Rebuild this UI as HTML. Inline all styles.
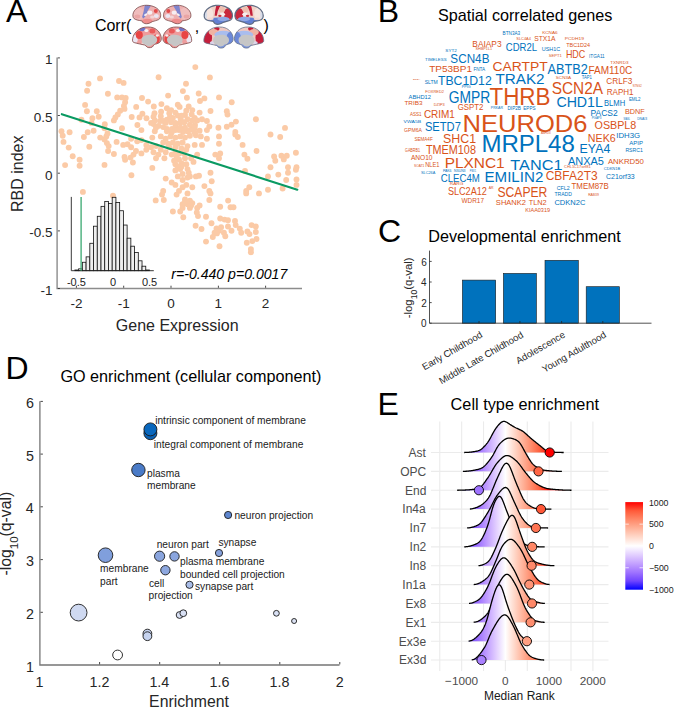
<!DOCTYPE html>
<html><head><meta charset="utf-8"><style>html,body{margin:0;padding:0;background:#fff;overflow:hidden}svg{display:block}text{font-family:"Liberation Sans",sans-serif}</style></head><body>
<svg width="685" height="708" viewBox="0 0 685 708" font-family="Liberation Sans">
<rect width="685" height="708" fill="#fff"/>
<text x="5.90" y="22.10" font-size="32" fill="#000" text-anchor="start" >A</text>
<text x="94.90" y="30.80" font-size="16" fill="#000" text-anchor="start" >Corr(</text>
<text x="194.80" y="31.50" font-size="16" fill="#000" text-anchor="start" >,</text>
<text x="263.50" y="30.80" font-size="16" fill="#000" text-anchor="start" >)</text>
<g transform="translate(132.30,5.00) scale(1.0000,0.9561)"><clipPath id="bc1325"><path d="M0.6,11.5 C0.2,6.5 4.5,1.5 12,0.4 C18,-0.3 24.5,2 27,6 C29.2,9.5 28.6,13.8 26.5,15.2 C24.5,16.4 22,16.6 20,17.4 C18,18.6 16.5,19.6 14,19.6 C11.5,19.6 10.2,18.5 9.6,16.6 C6.5,16.2 3,15.5 1.6,14 C0.9,13.3 0.6,12.4 0.6,11.5 Z"/></clipPath><path d="M0.6,11.5 C0.2,6.5 4.5,1.5 12,0.4 C18,-0.3 24.5,2 27,6 C29.2,9.5 28.6,13.8 26.5,15.2 C24.5,16.4 22,16.6 20,17.4 C18,18.6 16.5,19.6 14,19.6 C11.5,19.6 10.2,18.5 9.6,16.6 C6.5,16.2 3,15.5 1.6,14 C0.9,13.3 0.6,12.4 0.6,11.5 Z" fill="#eeb0b0"/><g clip-path="url(#bc1325)"><ellipse cx="6" cy="9" rx="6" ry="6.5" fill="#f0bdbd" transform="rotate(0 6 9)"/><polygon points="12.5,0 19,0 15.5,6 13,12 11,14 9.8,12.5 11.5,6" fill="#7f84cd"/><ellipse cx="17.5" cy="8" rx="2.6" ry="2.2" fill="#f6eef2" transform="rotate(0 17.5 8)"/><ellipse cx="24" cy="11.5" rx="2.6" ry="2" fill="#ebe7f3" transform="rotate(0 24 11.5)"/><ellipse cx="23.5" cy="6.3" rx="2" ry="2" fill="#e34a4a" transform="rotate(0 23.5 6.3)"/><ellipse cx="15" cy="17" rx="5.5" ry="2.6" fill="#ef8c8c" transform="rotate(0 15 17)"/><ellipse cx="20" cy="12.5" rx="2.2" ry="1.6" fill="#f3d6d8" transform="rotate(0 20 12.5)"/><ellipse cx="13.5" cy="10" rx="2" ry="1" fill="#f5f0f4" transform="rotate(-30 13.5 10)"/><ellipse cx="5" cy="12" rx="3" ry="2" fill="#eaa5a5" transform="rotate(0 5 12)"/></g><path d="M0.6,11.5 C0.2,6.5 4.5,1.5 12,0.4 C18,-0.3 24.5,2 27,6 C29.2,9.5 28.6,13.8 26.5,15.2 C24.5,16.4 22,16.6 20,17.4 C18,18.6 16.5,19.6 14,19.6 C11.5,19.6 10.2,18.5 9.6,16.6 C6.5,16.2 3,15.5 1.6,14 C0.9,13.3 0.6,12.4 0.6,11.5 Z" fill="none" stroke="#7a4a4a" stroke-width="0.8"/></g>
<g transform="translate(191.50,5.00) scale(-0.9862,0.9561)"><clipPath id="bc1625"><path d="M0.6,11.5 C0.2,6.5 4.5,1.5 12,0.4 C18,-0.3 24.5,2 27,6 C29.2,9.5 28.6,13.8 26.5,15.2 C24.5,16.4 22,16.6 20,17.4 C18,18.6 16.5,19.6 14,19.6 C11.5,19.6 10.2,18.5 9.6,16.6 C6.5,16.2 3,15.5 1.6,14 C0.9,13.3 0.6,12.4 0.6,11.5 Z"/></clipPath><path d="M0.6,11.5 C0.2,6.5 4.5,1.5 12,0.4 C18,-0.3 24.5,2 27,6 C29.2,9.5 28.6,13.8 26.5,15.2 C24.5,16.4 22,16.6 20,17.4 C18,18.6 16.5,19.6 14,19.6 C11.5,19.6 10.2,18.5 9.6,16.6 C6.5,16.2 3,15.5 1.6,14 C0.9,13.3 0.6,12.4 0.6,11.5 Z" fill="#eeb0b0"/><g clip-path="url(#bc1625)"><ellipse cx="6" cy="9" rx="6" ry="6.5" fill="#f0bdbd" transform="rotate(0 6 9)"/><polygon points="12.5,0 19,0 15.5,6 13,12 11,14 9.8,12.5 11.5,6" fill="#7f84cd"/><ellipse cx="17.5" cy="8" rx="2.6" ry="2.2" fill="#f6eef2" transform="rotate(0 17.5 8)"/><ellipse cx="24" cy="11.5" rx="2.6" ry="2" fill="#ebe7f3" transform="rotate(0 24 11.5)"/><ellipse cx="23.5" cy="6.3" rx="2" ry="2" fill="#e34a4a" transform="rotate(0 23.5 6.3)"/><ellipse cx="15" cy="17" rx="5.5" ry="2.6" fill="#ef8c8c" transform="rotate(0 15 17)"/><ellipse cx="20" cy="12.5" rx="2.2" ry="1.6" fill="#f3d6d8" transform="rotate(0 20 12.5)"/><ellipse cx="13.5" cy="10" rx="2" ry="1" fill="#f5f0f4" transform="rotate(-30 13.5 10)"/><ellipse cx="5" cy="12" rx="3" ry="2" fill="#eaa5a5" transform="rotate(0 5 12)"/></g><path d="M0.6,11.5 C0.2,6.5 4.5,1.5 12,0.4 C18,-0.3 24.5,2 27,6 C29.2,9.5 28.6,13.8 26.5,15.2 C24.5,16.4 22,16.6 20,17.4 C18,18.6 16.5,19.6 14,19.6 C11.5,19.6 10.2,18.5 9.6,16.6 C6.5,16.2 3,15.5 1.6,14 C0.9,13.3 0.6,12.4 0.6,11.5 Z" fill="none" stroke="#7a4a4a" stroke-width="0.8"/></g>
<g transform="translate(132.30,27.00) scale(1.0000,1.0049)"><clipPath id="bc13227"><path d="M0.2,13.3 C0.4,8 3.5,3.5 9.5,0.9 C13,-0.3 18,-0.3 21,0.8 C25.5,2.4 28.6,6.5 29,11 C29.2,14 27.6,15.9 24.4,16.7 C22.6,17.2 21.2,17.6 20.8,19 C20.2,20.6 16.7,21 15.1,20.2 C13.9,19.5 13.6,18.4 12.6,18 C9,17.2 4.6,16.4 1.9,15.5 C0.7,15.1 0.2,14.4 0.2,13.3 Z"/></clipPath><path d="M0.2,13.3 C0.4,8 3.5,3.5 9.5,0.9 C13,-0.3 18,-0.3 21,0.8 C25.5,2.4 28.6,6.5 29,11 C29.2,14 27.6,15.9 24.4,16.7 C22.6,17.2 21.2,17.6 20.8,19 C20.2,20.6 16.7,21 15.1,20.2 C13.9,19.5 13.6,18.4 12.6,18 C9,17.2 4.6,16.4 1.9,15.5 C0.7,15.1 0.2,14.4 0.2,13.3 Z" fill="#ee9c9c"/><g clip-path="url(#bc13227)"><ellipse cx="2.5" cy="12" rx="3" ry="4" fill="#ebe6f2" transform="rotate(0 2.5 12)"/><ellipse cx="10" cy="2" rx="3.2" ry="2.2" fill="#7074c8" transform="rotate(0 10 2)"/><ellipse cx="14" cy="3.5" rx="2" ry="1.5" fill="#f5f0f2" transform="rotate(0 14 3.5)"/><ellipse cx="7" cy="8" rx="3.5" ry="4" fill="#e84545" transform="rotate(0 7 8)"/><ellipse cx="24" cy="12" rx="3.5" ry="4.5" fill="#e84848" transform="rotate(0 24 12)"/><ellipse cx="20" cy="4" rx="3" ry="2.5" fill="#ea5a5a" transform="rotate(0 20 4)"/><ellipse cx="25" cy="8.5" rx="1.6" ry="1.3" fill="#f6eeee" transform="rotate(0 25 8.5)"/><ellipse cx="12" cy="16.5" rx="3" ry="1.5" fill="#f3d0d0" transform="rotate(0 12 16.5)"/><path d="M9.4,13.4 C9,10 12,7.8 17,7.6 C21.6,7.5 24.9,9.5 24.9,12.6 C24.9,15.5 22.6,16.8 20.6,17.2 C19.6,18.5 17.5,19.6 15.5,18.9 C14,18.4 13.3,17.6 12.6,17.1 C10.5,16.6 9.5,15.3 9.4,13.4 Z" fill="#c6c6c6"/></g><path d="M0.2,13.3 C0.4,8 3.5,3.5 9.5,0.9 C13,-0.3 18,-0.3 21,0.8 C25.5,2.4 28.6,6.5 29,11 C29.2,14 27.6,15.9 24.4,16.7 C22.6,17.2 21.2,17.6 20.8,19 C20.2,20.6 16.7,21 15.1,20.2 C13.9,19.5 13.6,18.4 12.6,18 C9,17.2 4.6,16.4 1.9,15.5 C0.7,15.1 0.2,14.4 0.2,13.3 Z" fill="none" stroke="#7a4a4a" stroke-width="0.8"/></g>
<g transform="translate(191.90,27.00) scale(-1.0000,1.0049)"><clipPath id="bc16227"><path d="M0.2,13.3 C0.4,8 3.5,3.5 9.5,0.9 C13,-0.3 18,-0.3 21,0.8 C25.5,2.4 28.6,6.5 29,11 C29.2,14 27.6,15.9 24.4,16.7 C22.6,17.2 21.2,17.6 20.8,19 C20.2,20.6 16.7,21 15.1,20.2 C13.9,19.5 13.6,18.4 12.6,18 C9,17.2 4.6,16.4 1.9,15.5 C0.7,15.1 0.2,14.4 0.2,13.3 Z"/></clipPath><path d="M0.2,13.3 C0.4,8 3.5,3.5 9.5,0.9 C13,-0.3 18,-0.3 21,0.8 C25.5,2.4 28.6,6.5 29,11 C29.2,14 27.6,15.9 24.4,16.7 C22.6,17.2 21.2,17.6 20.8,19 C20.2,20.6 16.7,21 15.1,20.2 C13.9,19.5 13.6,18.4 12.6,18 C9,17.2 4.6,16.4 1.9,15.5 C0.7,15.1 0.2,14.4 0.2,13.3 Z" fill="#ee9c9c"/><g clip-path="url(#bc16227)"><ellipse cx="2.5" cy="12" rx="3" ry="4" fill="#ebe6f2" transform="rotate(0 2.5 12)"/><ellipse cx="10" cy="2" rx="3.2" ry="2.2" fill="#7074c8" transform="rotate(0 10 2)"/><ellipse cx="14" cy="3.5" rx="2" ry="1.5" fill="#f5f0f2" transform="rotate(0 14 3.5)"/><ellipse cx="7" cy="8" rx="3.5" ry="4" fill="#e84545" transform="rotate(0 7 8)"/><ellipse cx="24" cy="12" rx="3.5" ry="4.5" fill="#e84848" transform="rotate(0 24 12)"/><ellipse cx="20" cy="4" rx="3" ry="2.5" fill="#ea5a5a" transform="rotate(0 20 4)"/><ellipse cx="25" cy="8.5" rx="1.6" ry="1.3" fill="#f6eeee" transform="rotate(0 25 8.5)"/><ellipse cx="12" cy="16.5" rx="3" ry="1.5" fill="#f3d0d0" transform="rotate(0 12 16.5)"/><path d="M9.4,13.4 C9,10 12,7.8 17,7.6 C21.6,7.5 24.9,9.5 24.9,12.6 C24.9,15.5 22.6,16.8 20.6,17.2 C19.6,18.5 17.5,19.6 15.5,18.9 C14,18.4 13.3,17.6 12.6,17.1 C10.5,16.6 9.5,15.3 9.4,13.4 Z" fill="#c6c6c6"/></g><path d="M0.2,13.3 C0.4,8 3.5,3.5 9.5,0.9 C13,-0.3 18,-0.3 21,0.8 C25.5,2.4 28.6,6.5 29,11 C29.2,14 27.6,15.9 24.4,16.7 C22.6,17.2 21.2,17.6 20.8,19 C20.2,20.6 16.7,21 15.1,20.2 C13.9,19.5 13.6,18.4 12.6,18 C9,17.2 4.6,16.4 1.9,15.5 C0.7,15.1 0.2,14.4 0.2,13.3 Z" fill="none" stroke="#7a4a4a" stroke-width="0.8"/></g>
<g transform="translate(203.60,5.00) scale(1.0172,0.9854)"><clipPath id="bc2035"><path d="M0.6,11.5 C0.2,6.5 4.5,1.5 12,0.4 C18,-0.3 24.5,2 27,6 C29.2,9.5 28.6,13.8 26.5,15.2 C24.5,16.4 22,16.6 20,17.4 C18,18.6 16.5,19.6 14,19.6 C11.5,19.6 10.2,18.5 9.6,16.6 C6.5,16.2 3,15.5 1.6,14 C0.9,13.3 0.6,12.4 0.6,11.5 Z"/></clipPath><path d="M0.6,11.5 C0.2,6.5 4.5,1.5 12,0.4 C18,-0.3 24.5,2 27,6 C29.2,9.5 28.6,13.8 26.5,15.2 C24.5,16.4 22,16.6 20,17.4 C18,18.6 16.5,19.6 14,19.6 C11.5,19.6 10.2,18.5 9.6,16.6 C6.5,16.2 3,15.5 1.6,14 C0.9,13.3 0.6,12.4 0.6,11.5 Z" fill="#f1d2c8"/><g clip-path="url(#bc2035)"><ellipse cx="5" cy="9" rx="4.5" ry="6.5" fill="#f5e4de" transform="rotate(0 5 9)"/><ellipse cx="2" cy="10" rx="1.5" ry="5" fill="#d8dce8" transform="rotate(0 2 10)"/><polygon points="12.5,0.5 17,0.2 14,6 13,11 10.8,11 11.5,5" fill="#c21f3a"/><ellipse cx="24.5" cy="9" rx="4.8" ry="6" fill="#c9283d" transform="rotate(0 24.5 9)"/><ellipse cx="18" cy="4.5" rx="3" ry="3" fill="#efc0b0" transform="rotate(0 18 4.5)"/><ellipse cx="18.5" cy="9.5" rx="2.6" ry="2" fill="#f6efef" transform="rotate(0 18.5 9.5)"/><ellipse cx="14.5" cy="17" rx="11" ry="4.3" fill="#6280d4" transform="rotate(0 14.5 17)"/><ellipse cx="19.5" cy="14.2" rx="6" ry="2.2" fill="#8fa8e6" transform="rotate(0 19.5 14.2)"/><ellipse cx="16" cy="11" rx="1.6" ry="1.2" fill="#c83040" transform="rotate(0 16 11)"/><ellipse cx="7" cy="14" rx="3" ry="1.3" fill="#f2d8d2" transform="rotate(0 7 14)"/></g><path d="M0.6,11.5 C0.2,6.5 4.5,1.5 12,0.4 C18,-0.3 24.5,2 27,6 C29.2,9.5 28.6,13.8 26.5,15.2 C24.5,16.4 22,16.6 20,17.4 C18,18.6 16.5,19.6 14,19.6 C11.5,19.6 10.2,18.5 9.6,16.6 C6.5,16.2 3,15.5 1.6,14 C0.9,13.3 0.6,12.4 0.6,11.5 Z" fill="none" stroke="#5f6c84" stroke-width="1.2"/></g>
<g transform="translate(263.80,5.00) scale(-1.0172,0.9854)"><clipPath id="bc2345"><path d="M0.6,11.5 C0.2,6.5 4.5,1.5 12,0.4 C18,-0.3 24.5,2 27,6 C29.2,9.5 28.6,13.8 26.5,15.2 C24.5,16.4 22,16.6 20,17.4 C18,18.6 16.5,19.6 14,19.6 C11.5,19.6 10.2,18.5 9.6,16.6 C6.5,16.2 3,15.5 1.6,14 C0.9,13.3 0.6,12.4 0.6,11.5 Z"/></clipPath><path d="M0.6,11.5 C0.2,6.5 4.5,1.5 12,0.4 C18,-0.3 24.5,2 27,6 C29.2,9.5 28.6,13.8 26.5,15.2 C24.5,16.4 22,16.6 20,17.4 C18,18.6 16.5,19.6 14,19.6 C11.5,19.6 10.2,18.5 9.6,16.6 C6.5,16.2 3,15.5 1.6,14 C0.9,13.3 0.6,12.4 0.6,11.5 Z" fill="#f1d2c8"/><g clip-path="url(#bc2345)"><ellipse cx="5" cy="9" rx="4.5" ry="6.5" fill="#f5e4de" transform="rotate(0 5 9)"/><ellipse cx="2" cy="10" rx="1.5" ry="5" fill="#d8dce8" transform="rotate(0 2 10)"/><polygon points="12.5,0.5 17,0.2 14,6 13,11 10.8,11 11.5,5" fill="#c21f3a"/><ellipse cx="24.5" cy="9" rx="4.8" ry="6" fill="#c9283d" transform="rotate(0 24.5 9)"/><ellipse cx="18" cy="4.5" rx="3" ry="3" fill="#efc0b0" transform="rotate(0 18 4.5)"/><ellipse cx="18.5" cy="9.5" rx="2.6" ry="2" fill="#f6efef" transform="rotate(0 18.5 9.5)"/><ellipse cx="14.5" cy="17" rx="11" ry="4.3" fill="#6280d4" transform="rotate(0 14.5 17)"/><ellipse cx="19.5" cy="14.2" rx="6" ry="2.2" fill="#8fa8e6" transform="rotate(0 19.5 14.2)"/><ellipse cx="16" cy="11" rx="1.6" ry="1.2" fill="#c83040" transform="rotate(0 16 11)"/><ellipse cx="7" cy="14" rx="3" ry="1.3" fill="#f2d8d2" transform="rotate(0 7 14)"/></g><path d="M0.6,11.5 C0.2,6.5 4.5,1.5 12,0.4 C18,-0.3 24.5,2 27,6 C29.2,9.5 28.6,13.8 26.5,15.2 C24.5,16.4 22,16.6 20,17.4 C18,18.6 16.5,19.6 14,19.6 C11.5,19.6 10.2,18.5 9.6,16.6 C6.5,16.2 3,15.5 1.6,14 C0.9,13.3 0.6,12.4 0.6,11.5 Z" fill="none" stroke="#5f6c84" stroke-width="1.2"/></g>
<g transform="translate(203.60,27.00) scale(1.0207,1.0244)"><clipPath id="bc20327"><path d="M0.2,13.3 C0.4,8 3.5,3.5 9.5,0.9 C13,-0.3 18,-0.3 21,0.8 C25.5,2.4 28.6,6.5 29,11 C29.2,14 27.6,15.9 24.4,16.7 C22.6,17.2 21.2,17.6 20.8,19 C20.2,20.6 16.7,21 15.1,20.2 C13.9,19.5 13.6,18.4 12.6,18 C9,17.2 4.6,16.4 1.9,15.5 C0.7,15.1 0.2,14.4 0.2,13.3 Z"/></clipPath><path d="M0.2,13.3 C0.4,8 3.5,3.5 9.5,0.9 C13,-0.3 18,-0.3 21,0.8 C25.5,2.4 28.6,6.5 29,11 C29.2,14 27.6,15.9 24.4,16.7 C22.6,17.2 21.2,17.6 20.8,19 C20.2,20.6 16.7,21 15.1,20.2 C13.9,19.5 13.6,18.4 12.6,18 C9,17.2 4.6,16.4 1.9,15.5 C0.7,15.1 0.2,14.4 0.2,13.3 Z" fill="#f0c8c0"/><g clip-path="url(#bc20327)"><ellipse cx="3.5" cy="10.5" rx="4.8" ry="7.5" fill="#c51f3b" transform="rotate(0 3.5 10.5)"/><ellipse cx="13" cy="1.8" rx="2.6" ry="1.9" fill="#c41e38" transform="rotate(0 13 1.8)"/><ellipse cx="9.5" cy="5" rx="4.5" ry="3" fill="#efb3a3" transform="rotate(0 9.5 5)"/><ellipse cx="19.5" cy="7.5" rx="9" ry="3.8" fill="#a9bdee" transform="rotate(0 19.5 7.5)"/><ellipse cx="26" cy="12" rx="3.8" ry="7" fill="#6c88d8" transform="rotate(0 26 12)"/><ellipse cx="18" cy="18.5" rx="7" ry="2.6" fill="#7b95dc" transform="rotate(0 18 18.5)"/><ellipse cx="8.5" cy="15.5" rx="2.5" ry="1.5" fill="#dcd6ea" transform="rotate(0 8.5 15.5)"/><path d="M9.4,13.4 C9,10 12,7.8 17,7.6 C21.6,7.5 24.9,9.5 24.9,12.6 C24.9,15.5 22.6,16.8 20.6,17.2 C19.6,18.5 17.5,19.6 15.5,18.9 C14,18.4 13.3,17.6 12.6,17.1 C10.5,16.6 9.5,15.3 9.4,13.4 Z" fill="#c6c6c6"/></g><path d="M0.2,13.3 C0.4,8 3.5,3.5 9.5,0.9 C13,-0.3 18,-0.3 21,0.8 C25.5,2.4 28.6,6.5 29,11 C29.2,14 27.6,15.9 24.4,16.7 C22.6,17.2 21.2,17.6 20.8,19 C20.2,20.6 16.7,21 15.1,20.2 C13.9,19.5 13.6,18.4 12.6,18 C9,17.2 4.6,16.4 1.9,15.5 C0.7,15.1 0.2,14.4 0.2,13.3 Z" fill="none" stroke="#6a7890" stroke-width="0.8"/></g>
<g transform="translate(263.90,27.00) scale(-1.0172,1.0244)"><clipPath id="bc23427"><path d="M0.2,13.3 C0.4,8 3.5,3.5 9.5,0.9 C13,-0.3 18,-0.3 21,0.8 C25.5,2.4 28.6,6.5 29,11 C29.2,14 27.6,15.9 24.4,16.7 C22.6,17.2 21.2,17.6 20.8,19 C20.2,20.6 16.7,21 15.1,20.2 C13.9,19.5 13.6,18.4 12.6,18 C9,17.2 4.6,16.4 1.9,15.5 C0.7,15.1 0.2,14.4 0.2,13.3 Z"/></clipPath><path d="M0.2,13.3 C0.4,8 3.5,3.5 9.5,0.9 C13,-0.3 18,-0.3 21,0.8 C25.5,2.4 28.6,6.5 29,11 C29.2,14 27.6,15.9 24.4,16.7 C22.6,17.2 21.2,17.6 20.8,19 C20.2,20.6 16.7,21 15.1,20.2 C13.9,19.5 13.6,18.4 12.6,18 C9,17.2 4.6,16.4 1.9,15.5 C0.7,15.1 0.2,14.4 0.2,13.3 Z" fill="#f0c8c0"/><g clip-path="url(#bc23427)"><ellipse cx="3.5" cy="10.5" rx="4.8" ry="7.5" fill="#c51f3b" transform="rotate(0 3.5 10.5)"/><ellipse cx="13" cy="1.8" rx="2.6" ry="1.9" fill="#c41e38" transform="rotate(0 13 1.8)"/><ellipse cx="9.5" cy="5" rx="4.5" ry="3" fill="#efb3a3" transform="rotate(0 9.5 5)"/><ellipse cx="19.5" cy="7.5" rx="9" ry="3.8" fill="#a9bdee" transform="rotate(0 19.5 7.5)"/><ellipse cx="26" cy="12" rx="3.8" ry="7" fill="#6c88d8" transform="rotate(0 26 12)"/><ellipse cx="18" cy="18.5" rx="7" ry="2.6" fill="#7b95dc" transform="rotate(0 18 18.5)"/><ellipse cx="8.5" cy="15.5" rx="2.5" ry="1.5" fill="#dcd6ea" transform="rotate(0 8.5 15.5)"/><path d="M9.4,13.4 C9,10 12,7.8 17,7.6 C21.6,7.5 24.9,9.5 24.9,12.6 C24.9,15.5 22.6,16.8 20.6,17.2 C19.6,18.5 17.5,19.6 15.5,18.9 C14,18.4 13.3,17.6 12.6,17.1 C10.5,16.6 9.5,15.3 9.4,13.4 Z" fill="#c6c6c6"/></g><path d="M0.2,13.3 C0.4,8 3.5,3.5 9.5,0.9 C13,-0.3 18,-0.3 21,0.8 C25.5,2.4 28.6,6.5 29,11 C29.2,14 27.6,15.9 24.4,16.7 C22.6,17.2 21.2,17.6 20.8,19 C20.2,20.6 16.7,21 15.1,20.2 C13.9,19.5 13.6,18.4 12.6,18 C9,17.2 4.6,16.4 1.9,15.5 C0.7,15.1 0.2,14.4 0.2,13.3 Z" fill="none" stroke="#6a7890" stroke-width="0.8"/></g>
<circle cx="100.0" cy="78.4" r="2.95" fill="#fbcaa6"/>
<circle cx="88.5" cy="83.7" r="2.95" fill="#fbcaa6"/>
<circle cx="87.1" cy="90.7" r="2.95" fill="#fbcaa6"/>
<circle cx="119.0" cy="81.0" r="2.95" fill="#fbcaa6"/>
<circle cx="123.6" cy="82.9" r="2.95" fill="#fbcaa6"/>
<circle cx="107.9" cy="93.8" r="2.95" fill="#fbcaa6"/>
<circle cx="117.2" cy="97.4" r="2.95" fill="#fbcaa6"/>
<circle cx="122.0" cy="97.4" r="2.95" fill="#fbcaa6"/>
<circle cx="125.7" cy="98.0" r="2.95" fill="#fbcaa6"/>
<circle cx="125.1" cy="102.3" r="2.95" fill="#fbcaa6"/>
<circle cx="123.9" cy="105.9" r="2.95" fill="#fbcaa6"/>
<circle cx="124.5" cy="108.9" r="2.95" fill="#fbcaa6"/>
<circle cx="120.2" cy="110.7" r="2.95" fill="#fbcaa6"/>
<circle cx="117.8" cy="114.4" r="2.95" fill="#fbcaa6"/>
<circle cx="115.4" cy="117.4" r="2.95" fill="#fbcaa6"/>
<circle cx="113.9" cy="120.4" r="2.95" fill="#fbcaa6"/>
<circle cx="85.1" cy="104.9" r="2.95" fill="#fbcaa6"/>
<circle cx="86.9" cy="111.3" r="2.95" fill="#fbcaa6"/>
<circle cx="96.8" cy="111.3" r="2.95" fill="#fbcaa6"/>
<circle cx="98.7" cy="116.8" r="2.95" fill="#fbcaa6"/>
<circle cx="92.4" cy="118.3" r="2.95" fill="#fbcaa6"/>
<circle cx="81.4" cy="119.8" r="2.95" fill="#fbcaa6"/>
<circle cx="91.5" cy="122.9" r="2.95" fill="#fbcaa6"/>
<circle cx="104.8" cy="124.3" r="2.95" fill="#fbcaa6"/>
<circle cx="104.5" cy="128.3" r="2.95" fill="#fbcaa6"/>
<circle cx="122.0" cy="128.3" r="2.95" fill="#fbcaa6"/>
<circle cx="131.7" cy="117.0" r="2.95" fill="#fbcaa6"/>
<circle cx="136.2" cy="106.9" r="2.95" fill="#fbcaa6"/>
<circle cx="137.4" cy="125.0" r="2.95" fill="#fbcaa6"/>
<circle cx="61.5" cy="131.3" r="2.95" fill="#fbcaa6"/>
<circle cx="69.6" cy="132.2" r="2.95" fill="#fbcaa6"/>
<circle cx="87.7" cy="132.2" r="2.95" fill="#fbcaa6"/>
<circle cx="93.6" cy="130.7" r="2.95" fill="#fbcaa6"/>
<circle cx="107.5" cy="133.5" r="2.95" fill="#fbcaa6"/>
<circle cx="139.5" cy="117.4" r="2.95" fill="#fbcaa6"/>
<circle cx="195.3" cy="67.1" r="2.95" fill="#fbcaa6"/>
<circle cx="158.6" cy="77.2" r="2.95" fill="#fbcaa6"/>
<circle cx="209.9" cy="77.4" r="2.95" fill="#fbcaa6"/>
<circle cx="186.0" cy="83.8" r="2.95" fill="#fbcaa6"/>
<circle cx="182.9" cy="91.1" r="2.95" fill="#fbcaa6"/>
<circle cx="168.1" cy="95.6" r="2.95" fill="#fbcaa6"/>
<circle cx="186.9" cy="97.8" r="2.95" fill="#fbcaa6"/>
<circle cx="198.7" cy="93.5" r="2.95" fill="#fbcaa6"/>
<circle cx="204.4" cy="98.4" r="2.95" fill="#fbcaa6"/>
<circle cx="200.0" cy="101.0" r="2.95" fill="#fbcaa6"/>
<circle cx="142.0" cy="98.0" r="2.95" fill="#fbcaa6"/>
<circle cx="148.1" cy="101.6" r="2.95" fill="#fbcaa6"/>
<circle cx="153.8" cy="106.5" r="2.95" fill="#fbcaa6"/>
<circle cx="161.4" cy="104.1" r="2.95" fill="#fbcaa6"/>
<circle cx="177.8" cy="104.7" r="2.95" fill="#fbcaa6"/>
<circle cx="179.6" cy="106.9" r="2.95" fill="#fbcaa6"/>
<circle cx="188.7" cy="106.5" r="2.95" fill="#fbcaa6"/>
<circle cx="192.3" cy="110.1" r="2.95" fill="#fbcaa6"/>
<circle cx="210.5" cy="111.0" r="2.95" fill="#fbcaa6"/>
<circle cx="199.6" cy="112.6" r="2.95" fill="#fbcaa6"/>
<circle cx="191.7" cy="114.4" r="2.95" fill="#fbcaa6"/>
<circle cx="219.0" cy="97.4" r="2.95" fill="#fbcaa6"/>
<circle cx="142.4" cy="113.8" r="2.95" fill="#fbcaa6"/>
<circle cx="146.5" cy="118.3" r="2.95" fill="#fbcaa6"/>
<circle cx="154.5" cy="113.2" r="2.95" fill="#fbcaa6"/>
<circle cx="153.5" cy="116.8" r="2.95" fill="#fbcaa6"/>
<circle cx="161.1" cy="111.7" r="2.95" fill="#fbcaa6"/>
<circle cx="160.8" cy="116.2" r="2.95" fill="#fbcaa6"/>
<circle cx="166.9" cy="108.3" r="2.95" fill="#fbcaa6"/>
<circle cx="171.1" cy="110.1" r="2.95" fill="#fbcaa6"/>
<circle cx="175.4" cy="112.6" r="2.95" fill="#fbcaa6"/>
<circle cx="177.8" cy="115.6" r="2.95" fill="#fbcaa6"/>
<circle cx="166.9" cy="119.8" r="2.95" fill="#fbcaa6"/>
<circle cx="171.1" cy="122.2" r="2.95" fill="#fbcaa6"/>
<circle cx="180.8" cy="119.2" r="2.95" fill="#fbcaa6"/>
<circle cx="184.4" cy="122.2" r="2.95" fill="#fbcaa6"/>
<circle cx="189.9" cy="124.7" r="2.95" fill="#fbcaa6"/>
<circle cx="153.5" cy="124.1" r="2.95" fill="#fbcaa6"/>
<circle cx="158.4" cy="125.9" r="2.95" fill="#fbcaa6"/>
<circle cx="163.2" cy="127.1" r="2.95" fill="#fbcaa6"/>
<circle cx="175.4" cy="126.5" r="2.95" fill="#fbcaa6"/>
<circle cx="180.2" cy="127.7" r="2.95" fill="#fbcaa6"/>
<circle cx="192.3" cy="128.9" r="2.95" fill="#fbcaa6"/>
<circle cx="197.2" cy="120.4" r="2.95" fill="#fbcaa6"/>
<circle cx="202.0" cy="119.2" r="2.95" fill="#fbcaa6"/>
<circle cx="206.9" cy="121.0" r="2.95" fill="#fbcaa6"/>
<circle cx="209.3" cy="126.5" r="2.95" fill="#fbcaa6"/>
<circle cx="199.6" cy="130.7" r="2.95" fill="#fbcaa6"/>
<circle cx="206.9" cy="130.1" r="2.95" fill="#fbcaa6"/>
<circle cx="218.4" cy="127.7" r="2.95" fill="#fbcaa6"/>
<circle cx="141.4" cy="130.1" r="2.95" fill="#fbcaa6"/>
<circle cx="154.8" cy="131.3" r="2.95" fill="#fbcaa6"/>
<circle cx="166.9" cy="131.3" r="2.95" fill="#fbcaa6"/>
<circle cx="187.5" cy="131.3" r="2.95" fill="#fbcaa6"/>
<circle cx="170.0" cy="117.0" r="2.95" fill="#fbcaa6"/>
<circle cx="185.0" cy="115.0" r="2.95" fill="#fbcaa6"/>
<circle cx="195.0" cy="125.0" r="2.95" fill="#fbcaa6"/>
<circle cx="160.0" cy="121.0" r="2.95" fill="#fbcaa6"/>
<circle cx="172.0" cy="129.0" r="2.95" fill="#fbcaa6"/>
<circle cx="183.0" cy="132.0" r="2.95" fill="#fbcaa6"/>
<circle cx="231.7" cy="102.3" r="2.95" fill="#fbcaa6"/>
<circle cx="226.8" cy="111.3" r="2.95" fill="#fbcaa6"/>
<circle cx="227.5" cy="114.6" r="2.95" fill="#fbcaa6"/>
<circle cx="235.9" cy="121.6" r="2.95" fill="#fbcaa6"/>
<circle cx="231.5" cy="124.7" r="2.95" fill="#fbcaa6"/>
<circle cx="226.8" cy="126.7" r="2.95" fill="#fbcaa6"/>
<circle cx="235.3" cy="132.0" r="2.95" fill="#fbcaa6"/>
<circle cx="255.9" cy="119.2" r="2.95" fill="#fbcaa6"/>
<circle cx="285.0" cy="127.9" r="2.95" fill="#fbcaa6"/>
<circle cx="270.5" cy="134.5" r="2.95" fill="#fbcaa6"/>
<circle cx="62.7" cy="135.8" r="2.95" fill="#fbcaa6"/>
<circle cx="63.5" cy="141.9" r="2.95" fill="#fbcaa6"/>
<circle cx="68.7" cy="147.6" r="2.95" fill="#fbcaa6"/>
<circle cx="72.7" cy="156.2" r="2.95" fill="#fbcaa6"/>
<circle cx="65.1" cy="165.1" r="2.95" fill="#fbcaa6"/>
<circle cx="79.6" cy="159.7" r="2.95" fill="#fbcaa6"/>
<circle cx="79.6" cy="165.7" r="2.95" fill="#fbcaa6"/>
<circle cx="83.9" cy="137.0" r="2.95" fill="#fbcaa6"/>
<circle cx="89.3" cy="146.7" r="2.95" fill="#fbcaa6"/>
<circle cx="100.2" cy="137.6" r="2.95" fill="#fbcaa6"/>
<circle cx="104.5" cy="139.5" r="2.95" fill="#fbcaa6"/>
<circle cx="106.3" cy="136.4" r="2.95" fill="#fbcaa6"/>
<circle cx="106.9" cy="143.1" r="2.95" fill="#fbcaa6"/>
<circle cx="108.7" cy="146.1" r="2.95" fill="#fbcaa6"/>
<circle cx="108.1" cy="151.0" r="2.95" fill="#fbcaa6"/>
<circle cx="113.9" cy="154.0" r="2.95" fill="#fbcaa6"/>
<circle cx="116.6" cy="141.9" r="2.95" fill="#fbcaa6"/>
<circle cx="104.5" cy="164.9" r="2.95" fill="#fbcaa6"/>
<circle cx="123.2" cy="144.9" r="2.95" fill="#fbcaa6"/>
<circle cx="127.5" cy="144.3" r="2.95" fill="#fbcaa6"/>
<circle cx="131.1" cy="147.3" r="2.95" fill="#fbcaa6"/>
<circle cx="136.0" cy="151.0" r="2.95" fill="#fbcaa6"/>
<circle cx="131.1" cy="138.8" r="2.95" fill="#fbcaa6"/>
<circle cx="124.5" cy="157.0" r="2.95" fill="#fbcaa6"/>
<circle cx="125.1" cy="159.7" r="2.95" fill="#fbcaa6"/>
<circle cx="130.5" cy="157.6" r="2.95" fill="#fbcaa6"/>
<circle cx="133.5" cy="154.6" r="2.95" fill="#fbcaa6"/>
<circle cx="132.9" cy="162.5" r="2.95" fill="#fbcaa6"/>
<circle cx="131.4" cy="175.2" r="2.95" fill="#fbcaa6"/>
<circle cx="82.9" cy="191.9" r="2.95" fill="#fbcaa6"/>
<circle cx="113.0" cy="195.8" r="2.95" fill="#fbcaa6"/>
<circle cx="137.2" cy="141.3" r="2.95" fill="#fbcaa6"/>
<circle cx="152.3" cy="137.6" r="2.95" fill="#fbcaa6"/>
<circle cx="160.8" cy="136.4" r="2.95" fill="#fbcaa6"/>
<circle cx="165.7" cy="138.8" r="2.95" fill="#fbcaa6"/>
<circle cx="170.5" cy="136.4" r="2.95" fill="#fbcaa6"/>
<circle cx="175.4" cy="137.6" r="2.95" fill="#fbcaa6"/>
<circle cx="180.2" cy="136.4" r="2.95" fill="#fbcaa6"/>
<circle cx="185.0" cy="137.6" r="2.95" fill="#fbcaa6"/>
<circle cx="189.9" cy="135.8" r="2.95" fill="#fbcaa6"/>
<circle cx="195.9" cy="135.2" r="2.95" fill="#fbcaa6"/>
<circle cx="200.8" cy="136.4" r="2.95" fill="#fbcaa6"/>
<circle cx="206.9" cy="138.8" r="2.95" fill="#fbcaa6"/>
<circle cx="219.0" cy="136.4" r="2.95" fill="#fbcaa6"/>
<circle cx="219.0" cy="143.7" r="2.95" fill="#fbcaa6"/>
<circle cx="163.2" cy="142.5" r="2.95" fill="#fbcaa6"/>
<circle cx="168.1" cy="143.7" r="2.95" fill="#fbcaa6"/>
<circle cx="172.9" cy="142.5" r="2.95" fill="#fbcaa6"/>
<circle cx="177.8" cy="143.7" r="2.95" fill="#fbcaa6"/>
<circle cx="182.6" cy="142.5" r="2.95" fill="#fbcaa6"/>
<circle cx="187.5" cy="146.1" r="2.95" fill="#fbcaa6"/>
<circle cx="194.7" cy="144.9" r="2.95" fill="#fbcaa6"/>
<circle cx="202.0" cy="144.9" r="2.95" fill="#fbcaa6"/>
<circle cx="141.4" cy="140.1" r="2.95" fill="#fbcaa6"/>
<circle cx="146.3" cy="144.9" r="2.95" fill="#fbcaa6"/>
<circle cx="151.1" cy="147.3" r="2.95" fill="#fbcaa6"/>
<circle cx="156.0" cy="146.1" r="2.95" fill="#fbcaa6"/>
<circle cx="160.8" cy="149.8" r="2.95" fill="#fbcaa6"/>
<circle cx="165.7" cy="152.2" r="2.95" fill="#fbcaa6"/>
<circle cx="141.4" cy="153.4" r="2.95" fill="#fbcaa6"/>
<circle cx="146.3" cy="149.8" r="2.95" fill="#fbcaa6"/>
<circle cx="153.5" cy="152.2" r="2.95" fill="#fbcaa6"/>
<circle cx="158.4" cy="154.6" r="2.95" fill="#fbcaa6"/>
<circle cx="156.0" cy="158.2" r="2.95" fill="#fbcaa6"/>
<circle cx="164.4" cy="158.2" r="2.95" fill="#fbcaa6"/>
<circle cx="171.7" cy="154.6" r="2.95" fill="#fbcaa6"/>
<circle cx="175.4" cy="152.2" r="2.95" fill="#fbcaa6"/>
<circle cx="181.4" cy="148.5" r="2.95" fill="#fbcaa6"/>
<circle cx="186.3" cy="149.8" r="2.95" fill="#fbcaa6"/>
<circle cx="197.2" cy="154.6" r="2.95" fill="#fbcaa6"/>
<circle cx="215.3" cy="154.6" r="2.95" fill="#fbcaa6"/>
<circle cx="220.2" cy="153.4" r="2.95" fill="#fbcaa6"/>
<circle cx="219.0" cy="158.2" r="2.95" fill="#fbcaa6"/>
<circle cx="179.0" cy="159.4" r="2.95" fill="#fbcaa6"/>
<circle cx="185.0" cy="158.2" r="2.95" fill="#fbcaa6"/>
<circle cx="191.1" cy="158.2" r="2.95" fill="#fbcaa6"/>
<circle cx="193.5" cy="161.9" r="2.95" fill="#fbcaa6"/>
<circle cx="175.4" cy="164.3" r="2.95" fill="#fbcaa6"/>
<circle cx="181.4" cy="163.1" r="2.95" fill="#fbcaa6"/>
<circle cx="186.3" cy="164.3" r="2.95" fill="#fbcaa6"/>
<circle cx="152.3" cy="167.9" r="2.95" fill="#fbcaa6"/>
<circle cx="175.4" cy="170.4" r="2.95" fill="#fbcaa6"/>
<circle cx="180.2" cy="169.1" r="2.95" fill="#fbcaa6"/>
<circle cx="187.5" cy="169.1" r="2.95" fill="#fbcaa6"/>
<circle cx="188.7" cy="172.8" r="2.95" fill="#fbcaa6"/>
<circle cx="177.8" cy="176.4" r="2.95" fill="#fbcaa6"/>
<circle cx="182.6" cy="174.0" r="2.95" fill="#fbcaa6"/>
<circle cx="210.5" cy="172.8" r="2.95" fill="#fbcaa6"/>
<circle cx="195.9" cy="176.4" r="2.95" fill="#fbcaa6"/>
<circle cx="199.0" cy="175.8" r="2.95" fill="#fbcaa6"/>
<circle cx="165.7" cy="178.6" r="2.95" fill="#fbcaa6"/>
<circle cx="171.7" cy="182.5" r="2.95" fill="#fbcaa6"/>
<circle cx="175.4" cy="184.9" r="2.95" fill="#fbcaa6"/>
<circle cx="182.6" cy="180.0" r="2.95" fill="#fbcaa6"/>
<circle cx="187.5" cy="177.6" r="2.95" fill="#fbcaa6"/>
<circle cx="189.9" cy="176.4" r="2.95" fill="#fbcaa6"/>
<circle cx="211.7" cy="181.3" r="2.95" fill="#fbcaa6"/>
<circle cx="186.3" cy="184.9" r="2.95" fill="#fbcaa6"/>
<circle cx="192.3" cy="187.3" r="2.95" fill="#fbcaa6"/>
<circle cx="182.6" cy="187.3" r="2.95" fill="#fbcaa6"/>
<circle cx="204.4" cy="186.1" r="2.95" fill="#fbcaa6"/>
<circle cx="179.0" cy="190.9" r="2.95" fill="#fbcaa6"/>
<circle cx="176.6" cy="194.6" r="2.95" fill="#fbcaa6"/>
<circle cx="187.5" cy="193.4" r="2.95" fill="#fbcaa6"/>
<circle cx="209.3" cy="190.9" r="2.95" fill="#fbcaa6"/>
<circle cx="210.5" cy="193.4" r="2.95" fill="#fbcaa6"/>
<circle cx="163.2" cy="190.9" r="2.95" fill="#fbcaa6"/>
<circle cx="162.0" cy="194.6" r="2.95" fill="#fbcaa6"/>
<circle cx="163.8" cy="200.0" r="2.95" fill="#fbcaa6"/>
<circle cx="155.7" cy="200.4" r="2.95" fill="#fbcaa6"/>
<circle cx="209.3" cy="200.0" r="2.95" fill="#fbcaa6"/>
<circle cx="185.0" cy="199.4" r="2.95" fill="#fbcaa6"/>
<circle cx="189.9" cy="200.6" r="2.95" fill="#fbcaa6"/>
<circle cx="182.6" cy="204.3" r="2.95" fill="#fbcaa6"/>
<circle cx="187.5" cy="204.3" r="2.95" fill="#fbcaa6"/>
<circle cx="192.3" cy="203.1" r="2.95" fill="#fbcaa6"/>
<circle cx="182.6" cy="207.9" r="2.95" fill="#fbcaa6"/>
<circle cx="189.9" cy="207.9" r="2.95" fill="#fbcaa6"/>
<circle cx="199.6" cy="205.5" r="2.95" fill="#fbcaa6"/>
<circle cx="197.2" cy="207.9" r="2.95" fill="#fbcaa6"/>
<circle cx="172.9" cy="211.5" r="2.95" fill="#fbcaa6"/>
<circle cx="180.2" cy="211.5" r="2.95" fill="#fbcaa6"/>
<circle cx="220.2" cy="206.7" r="2.95" fill="#fbcaa6"/>
<circle cx="169.3" cy="147.3" r="2.95" fill="#fbcaa6"/>
<circle cx="175.4" cy="147.3" r="2.95" fill="#fbcaa6"/>
<circle cx="179.0" cy="153.4" r="2.95" fill="#fbcaa6"/>
<circle cx="183.8" cy="153.4" r="2.95" fill="#fbcaa6"/>
<circle cx="176.6" cy="157.0" r="2.95" fill="#fbcaa6"/>
<circle cx="174.1" cy="160.7" r="2.95" fill="#fbcaa6"/>
<circle cx="181.4" cy="166.7" r="2.95" fill="#fbcaa6"/>
<circle cx="177.8" cy="166.7" r="2.95" fill="#fbcaa6"/>
<circle cx="185.0" cy="201.9" r="2.95" fill="#fbcaa6"/>
<circle cx="191.1" cy="205.5" r="2.95" fill="#fbcaa6"/>
<circle cx="169.3" cy="113.2" r="2.95" fill="#fbcaa6"/>
<circle cx="172.9" cy="118.0" r="2.95" fill="#fbcaa6"/>
<circle cx="165.7" cy="122.9" r="2.95" fill="#fbcaa6"/>
<circle cx="175.4" cy="122.9" r="2.95" fill="#fbcaa6"/>
<circle cx="180.2" cy="122.9" r="2.95" fill="#fbcaa6"/>
<circle cx="185.0" cy="127.7" r="2.95" fill="#fbcaa6"/>
<circle cx="189.9" cy="130.1" r="2.95" fill="#fbcaa6"/>
<circle cx="192.3" cy="120.4" r="2.95" fill="#fbcaa6"/>
<circle cx="194.7" cy="127.7" r="2.95" fill="#fbcaa6"/>
<circle cx="179.0" cy="130.1" r="2.95" fill="#fbcaa6"/>
<circle cx="171.7" cy="132.5" r="2.95" fill="#fbcaa6"/>
<circle cx="166.9" cy="128.9" r="2.95" fill="#fbcaa6"/>
<circle cx="175.4" cy="130.1" r="2.95" fill="#fbcaa6"/>
<circle cx="181.4" cy="115.6" r="2.95" fill="#fbcaa6"/>
<circle cx="187.5" cy="119.2" r="2.95" fill="#fbcaa6"/>
<circle cx="194.7" cy="118.0" r="2.95" fill="#fbcaa6"/>
<circle cx="186.3" cy="110.7" r="2.95" fill="#fbcaa6"/>
<circle cx="163.2" cy="121.0" r="2.95" fill="#fbcaa6"/>
<circle cx="154.8" cy="120.4" r="2.95" fill="#fbcaa6"/>
<circle cx="151.1" cy="122.9" r="2.95" fill="#fbcaa6"/>
<circle cx="156.0" cy="127.7" r="2.95" fill="#fbcaa6"/>
<circle cx="194.7" cy="132.5" r="2.95" fill="#fbcaa6"/>
<circle cx="235.3" cy="134.6" r="2.95" fill="#fbcaa6"/>
<circle cx="237.8" cy="137.0" r="2.95" fill="#fbcaa6"/>
<circle cx="280.2" cy="137.0" r="2.95" fill="#fbcaa6"/>
<circle cx="242.6" cy="144.9" r="2.95" fill="#fbcaa6"/>
<circle cx="256.5" cy="151.0" r="2.95" fill="#fbcaa6"/>
<circle cx="244.4" cy="154.6" r="2.95" fill="#fbcaa6"/>
<circle cx="247.4" cy="158.8" r="2.95" fill="#fbcaa6"/>
<circle cx="274.1" cy="156.4" r="2.95" fill="#fbcaa6"/>
<circle cx="275.3" cy="160.7" r="2.95" fill="#fbcaa6"/>
<circle cx="281.4" cy="155.8" r="2.95" fill="#fbcaa6"/>
<circle cx="283.8" cy="159.4" r="2.95" fill="#fbcaa6"/>
<circle cx="286.8" cy="155.8" r="2.95" fill="#fbcaa6"/>
<circle cx="295.9" cy="152.8" r="2.95" fill="#fbcaa6"/>
<circle cx="270.5" cy="167.3" r="2.95" fill="#fbcaa6"/>
<circle cx="288.0" cy="167.3" r="2.95" fill="#fbcaa6"/>
<circle cx="295.9" cy="169.7" r="2.95" fill="#fbcaa6"/>
<circle cx="296.5" cy="167.3" r="2.95" fill="#fbcaa6"/>
<circle cx="288.0" cy="172.8" r="2.95" fill="#fbcaa6"/>
<circle cx="278.3" cy="174.6" r="2.95" fill="#fbcaa6"/>
<circle cx="268.0" cy="176.4" r="2.95" fill="#fbcaa6"/>
<circle cx="245.0" cy="171.0" r="2.95" fill="#fbcaa6"/>
<circle cx="286.2" cy="180.0" r="2.95" fill="#fbcaa6"/>
<circle cx="296.5" cy="179.4" r="2.95" fill="#fbcaa6"/>
<circle cx="296.5" cy="184.9" r="2.95" fill="#fbcaa6"/>
<circle cx="282.6" cy="188.5" r="2.95" fill="#fbcaa6"/>
<circle cx="249.3" cy="187.3" r="2.95" fill="#fbcaa6"/>
<circle cx="246.2" cy="190.9" r="2.95" fill="#fbcaa6"/>
<circle cx="246.2" cy="193.4" r="2.95" fill="#fbcaa6"/>
<circle cx="259.0" cy="193.4" r="2.95" fill="#fbcaa6"/>
<circle cx="268.0" cy="189.7" r="2.95" fill="#fbcaa6"/>
<circle cx="228.1" cy="200.6" r="2.95" fill="#fbcaa6"/>
<circle cx="230.5" cy="207.3" r="2.95" fill="#fbcaa6"/>
<circle cx="233.5" cy="207.3" r="2.95" fill="#fbcaa6"/>
<circle cx="183.3" cy="217.3" r="2.95" fill="#fbcaa6"/>
<circle cx="196.8" cy="212.4" r="2.95" fill="#fbcaa6"/>
<circle cx="198.0" cy="216.1" r="2.95" fill="#fbcaa6"/>
<circle cx="206.0" cy="216.7" r="2.95" fill="#fbcaa6"/>
<circle cx="211.5" cy="223.2" r="2.95" fill="#fbcaa6"/>
<circle cx="195.6" cy="225.7" r="2.95" fill="#fbcaa6"/>
<circle cx="201.5" cy="229.0" r="2.95" fill="#fbcaa6"/>
<circle cx="220.2" cy="218.5" r="2.95" fill="#fbcaa6"/>
<circle cx="216.5" cy="228.4" r="2.95" fill="#fbcaa6"/>
<circle cx="218.9" cy="230.8" r="2.95" fill="#fbcaa6"/>
<circle cx="214.6" cy="232.7" r="2.95" fill="#fbcaa6"/>
<circle cx="212.8" cy="237.0" r="2.95" fill="#fbcaa6"/>
<circle cx="206.0" cy="241.6" r="2.95" fill="#fbcaa6"/>
<circle cx="219.5" cy="246.2" r="2.95" fill="#fbcaa6"/>
<circle cx="224.6" cy="219.6" r="2.95" fill="#fbcaa6"/>
<circle cx="228.0" cy="220.3" r="2.95" fill="#fbcaa6"/>
<circle cx="235.0" cy="221.0" r="2.95" fill="#fbcaa6"/>
<circle cx="235.7" cy="225.1" r="2.95" fill="#fbcaa6"/>
<circle cx="221.1" cy="227.2" r="2.95" fill="#fbcaa6"/>
<circle cx="228.0" cy="226.5" r="2.95" fill="#fbcaa6"/>
<circle cx="231.5" cy="230.7" r="2.95" fill="#fbcaa6"/>
<circle cx="223.9" cy="232.7" r="2.95" fill="#fbcaa6"/>
<circle cx="225.3" cy="236.2" r="2.95" fill="#fbcaa6"/>
<circle cx="216.9" cy="233.4" r="2.95" fill="#fbcaa6"/>
<circle cx="239.8" cy="228.6" r="2.95" fill="#fbcaa6"/>
<circle cx="241.2" cy="232.7" r="2.95" fill="#fbcaa6"/>
<circle cx="247.4" cy="231.4" r="2.95" fill="#fbcaa6"/>
<circle cx="249.5" cy="234.1" r="2.95" fill="#fbcaa6"/>
<circle cx="251.6" cy="225.1" r="2.95" fill="#fbcaa6"/>
<circle cx="255.8" cy="226.5" r="2.95" fill="#fbcaa6"/>
<circle cx="255.8" cy="232.0" r="2.95" fill="#fbcaa6"/>
<circle cx="256.5" cy="239.0" r="2.95" fill="#fbcaa6"/>
<circle cx="252.3" cy="241.1" r="2.95" fill="#fbcaa6"/>
<circle cx="246.8" cy="242.7" r="2.95" fill="#fbcaa6"/>
<circle cx="250.9" cy="249.1" r="2.95" fill="#fbcaa6"/>
<circle cx="250.9" cy="252.2" r="2.95" fill="#fbcaa6"/>
<line x1="61.8" y1="114.2" x2="297.3" y2="189.7" stroke="#0a9a62" stroke-width="2.1" stroke-linecap="round"/>
<path d="M57.1,57.4 V288.5 H302.0" fill="none" stroke="#8c8c8c" stroke-width="1.4"/>
<line x1="57.800000000000004" y1="57.9" x2="59.9" y2="57.9" stroke="#333" stroke-width="0.9"/>
<text x="45.10" y="64.20" font-size="13.5" fill="#262626" text-anchor="start" >1</text>
<line x1="57.800000000000004" y1="115.5" x2="59.9" y2="115.5" stroke="#333" stroke-width="0.9"/>
<text x="33.80" y="121.80" font-size="13.5" fill="#262626" text-anchor="start" >0.5</text>
<line x1="57.800000000000004" y1="173.2" x2="59.9" y2="173.2" stroke="#333" stroke-width="0.9"/>
<text x="45.00" y="179.50" font-size="13.5" fill="#262626" text-anchor="start" >0</text>
<line x1="57.800000000000004" y1="230.9" x2="59.9" y2="230.9" stroke="#333" stroke-width="0.9"/>
<text x="29.30" y="237.20" font-size="13.5" fill="#262626" text-anchor="start" >-0.5</text>
<line x1="57.800000000000004" y1="288.5" x2="59.9" y2="288.5" stroke="#333" stroke-width="0.9"/>
<text x="40.60" y="294.80" font-size="13.5" fill="#262626" text-anchor="start" >-1</text>
<line x1="76.4" y1="287.8" x2="76.4" y2="285.7" stroke="#333" stroke-width="0.9"/>
<text x="70.45" y="308.20" font-size="13.5" fill="#262626" text-anchor="start" >-2</text>
<line x1="123.7" y1="287.8" x2="123.7" y2="285.7" stroke="#333" stroke-width="0.9"/>
<text x="117.70" y="308.20" font-size="13.5" fill="#262626" text-anchor="start" >-1</text>
<line x1="171.0" y1="287.8" x2="171.0" y2="285.7" stroke="#333" stroke-width="0.9"/>
<text x="167.25" y="308.20" font-size="13.5" fill="#262626" text-anchor="start" >0</text>
<line x1="218.4" y1="287.8" x2="218.4" y2="285.7" stroke="#333" stroke-width="0.9"/>
<text x="214.45" y="308.20" font-size="13.5" fill="#262626" text-anchor="start" >1</text>
<line x1="265.6" y1="287.8" x2="265.6" y2="285.7" stroke="#333" stroke-width="0.9"/>
<text x="261.85" y="308.20" font-size="13.5" fill="#262626" text-anchor="start" >2</text>
<text x="115.80" y="331.00" font-size="16" fill="#262626" text-anchor="start" >Gene Expression</text>
<text transform="translate(22.9,212) rotate(-90)" font-size="16" fill="#262626">RBD index</text>
<text x="171.30" y="279.40" font-size="14.1" fill="#000" text-anchor="start" font-style="italic" >r=-0.440 p=0.0017</text>
<rect x="74.90" y="270.00" width="3.73" height="0.70" fill="#efefef" stroke="#111" stroke-width="0.8"/>
<rect x="78.63" y="268.83" width="3.73" height="1.87" fill="#efefef" stroke="#111" stroke-width="0.8"/>
<rect x="82.36" y="262.26" width="3.73" height="8.44" fill="#efefef" stroke="#111" stroke-width="0.8"/>
<rect x="86.09" y="256.86" width="3.73" height="13.84" fill="#efefef" stroke="#111" stroke-width="0.8"/>
<rect x="89.82" y="243.28" width="3.73" height="27.42" fill="#efefef" stroke="#111" stroke-width="0.8"/>
<rect x="93.55" y="226.20" width="3.73" height="44.50" fill="#efefef" stroke="#111" stroke-width="0.8"/>
<rect x="97.28" y="216.28" width="3.73" height="54.42" fill="#efefef" stroke="#111" stroke-width="0.8"/>
<rect x="101.01" y="206.35" width="3.73" height="64.35" fill="#efefef" stroke="#111" stroke-width="0.8"/>
<rect x="104.74" y="201.39" width="3.73" height="69.31" fill="#efefef" stroke="#111" stroke-width="0.8"/>
<rect x="108.47" y="203.43" width="3.73" height="67.27" fill="#efefef" stroke="#111" stroke-width="0.8"/>
<rect x="112.20" y="197.30" width="3.73" height="73.40" fill="#efefef" stroke="#111" stroke-width="0.8"/>
<rect x="115.93" y="202.41" width="3.73" height="68.29" fill="#efefef" stroke="#111" stroke-width="0.8"/>
<rect x="119.66" y="210.73" width="3.73" height="59.97" fill="#efefef" stroke="#111" stroke-width="0.8"/>
<rect x="123.39" y="225.04" width="3.73" height="45.66" fill="#efefef" stroke="#111" stroke-width="0.8"/>
<rect x="127.12" y="238.18" width="3.73" height="32.52" fill="#efefef" stroke="#111" stroke-width="0.8"/>
<rect x="130.85" y="246.20" width="3.73" height="24.50" fill="#efefef" stroke="#111" stroke-width="0.8"/>
<rect x="134.58" y="252.48" width="3.73" height="18.22" fill="#efefef" stroke="#111" stroke-width="0.8"/>
<rect x="138.31" y="260.80" width="3.73" height="9.90" fill="#efefef" stroke="#111" stroke-width="0.8"/>
<rect x="142.04" y="266.20" width="3.73" height="4.50" fill="#efefef" stroke="#111" stroke-width="0.8"/>
<rect x="145.77" y="270.00" width="3.73" height="0.70" fill="#efefef" stroke="#111" stroke-width="0.8"/>
<path d="M71.3,196.9 V270.7 H153.8" fill="none" stroke="#222" stroke-width="0.9"/>
<line x1="81.1" y1="196.9" x2="81.1" y2="270.7" stroke="#3aa870" stroke-width="1.3"/>
<text x="66.90" y="286.00" font-size="11" fill="#222" text-anchor="start" >-0.5</text>
<text x="109.95" y="286.00" font-size="11" fill="#222" text-anchor="start" >0</text>
<text x="141.95" y="286.00" font-size="11" fill="#222" text-anchor="start" >0.5</text>
<text x="377.70" y="22.10" font-size="32" fill="#000" text-anchor="start" >B</text>
<text x="437.90" y="20.90" font-size="16.2" fill="#000" text-anchor="start" >Spatial correlated genes</text>
<text transform="translate(502.58,34.65) scale(0.2336,0.2500)" font-size="20" fill="#0072bd">BTN3A3</text>
<text transform="translate(516.32,40.10) scale(0.1959,0.1714)" font-size="20" fill="#d95319">SLC4A4</text>
<text transform="translate(542.18,33.85) scale(0.2317,0.1714)" font-size="20" fill="#d95319">KCNA6</text>
<text transform="translate(534.20,41.10) scale(0.3381,0.3643)" font-size="20" fill="#d95319">STX1A</text>
<text transform="translate(564.76,39.75) scale(0.2435,0.2000)" font-size="20" fill="#d95319">PCDH19</text>
<text transform="translate(472.33,47.10) scale(0.4172,0.4571)" font-size="20" fill="#d95319">BAIAP3</text>
<text transform="translate(505.82,50.80) scale(0.4781,0.5286)" font-size="20" fill="#0072bd">CDR2L</text>
<text transform="translate(541.79,51.30) scale(0.2729,0.2786)" font-size="20" fill="#0072bd">USH1C</text>
<text transform="translate(566.24,46.55) scale(0.2707,0.2643)" font-size="20" fill="#d95319">TBC1D24</text>
<text transform="translate(445.34,51.65) scale(0.2308,0.2143)" font-size="20" fill="#0072bd">SYT2</text>
<text transform="translate(475.43,50.30) scale(0.1907,0.1714)" font-size="20" fill="#d95319">SHBP1L1</text>
<text transform="translate(565.88,57.90) scale(0.4488,0.5143)" font-size="20" fill="#d95319">HDC</text>
<text transform="translate(548.87,57.45) scale(0.2049,0.1857)" font-size="20" fill="#d95319">SEPT1</text>
<text transform="translate(589.03,57.85) scale(0.2334,0.2643)" font-size="20" fill="#0072bd">ITGA11</text>
<text transform="translate(425.06,60.85) scale(0.2182,0.2143)" font-size="20" fill="#0072bd">TIMELESS</text>
<text transform="translate(450.37,63.40) scale(0.5864,0.6000)" font-size="20" fill="#0072bd">SCN4B</text>
<text transform="translate(610.36,63.95) scale(0.2259,0.1857)" font-size="20" fill="#d95319">TXNRD3</text>
<text transform="translate(492.51,71.20) scale(0.6944,0.6714)" font-size="20" fill="#d95319">CARTPT</text>
<text transform="translate(547.60,73.90) scale(0.6372,0.7143)" font-size="20" fill="#0072bd">ABTB2</text>
<text transform="translate(588.40,74.40) scale(0.5018,0.5429)" font-size="20" fill="#d95319">FAM110C</text>
<text transform="translate(429.20,72.00) scale(0.5006,0.4786)" font-size="20" fill="#d95319">TP53BP1</text>
<text transform="translate(473.38,71.45) scale(0.2342,0.2391)" font-size="20" fill="#0072bd">FNTA</text>
<text transform="translate(495.39,84.30) scale(0.7635,0.7500)" font-size="20" fill="#0072bd">TRAK2</text>
<text transform="translate(555.84,78.75) scale(0.2280,0.1857)" font-size="20" fill="#d95319">SCN3A</text>
<text transform="translate(581.67,79.15) scale(0.2097,0.2246)" font-size="20" fill="#0072bd">TAP1</text>
<text transform="translate(606.29,83.90) scale(0.4130,0.4643)" font-size="20" fill="#d95319">CRLF3</text>
<text transform="translate(632.79,86.80) scale(0.1319,0.1643)" font-size="20" fill="#d95319">NTNG2</text>
<text transform="translate(424.67,83.50) scale(0.2535,0.2929)" font-size="20" fill="#0072bd">SLTM</text>
<text transform="translate(437.95,84.90) scale(0.6134,0.6786)" font-size="20" fill="#0072bd">TBC1D12</text>
<text transform="translate(413.08,80.20) scale(0.1345,0.1214)" font-size="20" fill="#d95319">ENSA</text>
<text transform="translate(551.71,93.60) scale(0.7705,0.8643)" font-size="20" fill="#d95319">SCN2A</text>
<text transform="translate(606.76,95.40) scale(0.4019,0.4348)" font-size="20" fill="#d95319">RAPH1</text>
<text transform="translate(461.75,88.25) scale(0.1857,0.1857)" font-size="20" fill="#0072bd">PPIG</text>
<text transform="translate(489.45,105.10) scale(1.1226,1.1957)" font-size="20" fill="#d95319">THRB</text>
<text transform="translate(425.33,92.75) scale(0.1972,0.1857)" font-size="20" fill="#d95319">FOXRED2</text>
<text transform="translate(408.60,99.20) scale(0.2878,0.2786)" font-size="20" fill="#0072bd">ABHD12</text>
<text transform="translate(448.71,103.30) scale(0.6902,0.7786)" font-size="20" fill="#0072bd">GMPR</text>
<text transform="translate(556.39,106.70) scale(0.7094,0.7643)" font-size="20" fill="#0072bd">CHD1L</text>
<text transform="translate(603.99,106.10) scale(0.3824,0.4348)" font-size="20" fill="#0072bd">BLMH</text>
<text transform="translate(628.90,100.65) scale(0.2218,0.2500)" font-size="20" fill="#0072bd">EML2</text>
<text transform="translate(404.47,105.40) scale(0.3189,0.2714)" font-size="20" fill="#d95319">TRIB3</text>
<text transform="translate(433.74,106.35) scale(0.1952,0.1929)" font-size="20" fill="#d95319">DZIP3</text>
<text transform="translate(457.71,110.10) scale(0.3915,0.4429)" font-size="20" fill="#d95319">GSPT2</text>
<text transform="translate(490.87,108.95) scale(0.1762,0.1594)" font-size="20" fill="#0072bd">PRKAR</text>
<text transform="translate(507.48,109.75) scale(0.2337,0.2429)" font-size="20" fill="#0072bd">DIP2B</text>
<text transform="translate(523.28,109.75) scale(0.2303,0.2429)" font-size="20" fill="#0072bd">EPPS</text>
<text transform="translate(590.52,115.50) scale(0.4244,0.4429)" font-size="20" fill="#0072bd">PACS2</text>
<text transform="translate(624.92,114.40) scale(0.3635,0.3696)" font-size="20" fill="#d95319">BDNF</text>
<text transform="translate(409.95,116.25) scale(0.2271,0.2357)" font-size="20" fill="#d95319">ASS1</text>
<text transform="translate(423.90,117.60) scale(0.4992,0.5286)" font-size="20" fill="#d95319">CRIM1</text>
<text transform="translate(462.55,131.90) scale(1.2788,1.2357)" font-size="20" fill="#d95319">NEUROD6</text>
<text transform="translate(591.66,119.00) scale(0.1477,0.1429)" font-size="20" fill="#0072bd">PGAP3</text>
<text transform="translate(623.59,119.50) scale(0.1159,0.1429)" font-size="20" fill="#0072bd">WASL</text>
<text transform="translate(637.13,120.10) scale(0.1681,0.1500)" font-size="20" fill="#0072bd">DNAI3</text>
<text transform="translate(403.62,122.75) scale(0.2526,0.1957)" font-size="20" fill="#0072bd">VWA5B</text>
<text transform="translate(424.90,130.70) scale(0.5584,0.6143)" font-size="20" fill="#0072bd">SETD7</text>
<text transform="translate(594.52,129.20) scale(0.5375,0.5429)" font-size="20" fill="#d95319">OSBPL8</text>
<text transform="translate(404.09,132.05) scale(0.2565,0.2429)" font-size="20" fill="#d95319">GPM6A</text>
<text transform="translate(541.00,133.90) scale(0.1457,0.1500)" font-size="20" fill="#d95319">ABHD3</text>
<text transform="translate(443.04,142.80) scale(0.6194,0.6071)" font-size="20" fill="#d95319">SHC1</text>
<text transform="translate(587.85,141.90) scale(0.5321,0.5429)" font-size="20" fill="#d95319">NEK6</text>
<text transform="translate(616.30,137.70) scale(0.3903,0.3929)" font-size="20" fill="#0072bd">IDH3G</text>
<text transform="translate(481.38,152.10) scale(1.2016,1.2071)" font-size="20" fill="#0072bd">MRPL48</text>
<text transform="translate(414.44,141.45) scale(0.2286,0.2786)" font-size="20" fill="#d95319">SEMA4F</text>
<text transform="translate(629.30,144.50) scale(0.3011,0.3116)" font-size="20" fill="#0072bd">APIP</text>
<text transform="translate(579.61,152.50) scale(0.6181,0.6304)" font-size="20" fill="#0072bd">EYA4</text>
<text transform="translate(425.88,153.80) scale(0.5429,0.5929)" font-size="20" fill="#d95319">TMEM108</text>
<text transform="translate(405.07,152.45) scale(0.1831,0.2357)" font-size="20" fill="#d95319">GABRB1</text>
<text transform="translate(625.44,151.75) scale(0.2557,0.2857)" font-size="20" fill="#0072bd">RSRC1</text>
<text transform="translate(410.90,160.30) scale(0.3297,0.3929)" font-size="20" fill="#d95319">ANO10</text>
<text transform="translate(444.67,168.30) scale(0.7716,0.7643)" font-size="20" fill="#d95319">PLXNC1</text>
<text transform="translate(510.37,169.50) scale(0.8137,0.7786)" font-size="20" fill="#0072bd">TANC1</text>
<text transform="translate(567.90,164.60) scale(0.5494,0.5580)" font-size="20" fill="#0072bd">ANXA5</text>
<text transform="translate(607.90,163.70) scale(0.3913,0.3929)" font-size="20" fill="#d95319">ANKRD50</text>
<text transform="translate(425.14,167.30) scale(0.2884,0.3623)" font-size="20" fill="#d95319">NLE1</text>
<text transform="translate(414.00,166.85) scale(0.1637,0.1786)" font-size="20" fill="#d95319">SOAT1</text>
<text transform="translate(564.10,168.40) scale(0.1951,0.1500)" font-size="20" fill="#d95319">CHL1</text>
<text transform="translate(573.84,168.45) scale(0.2065,0.1586)" font-size="20" fill="#d95319">C17orf81</text>
<text transform="translate(603.85,169.65) scale(0.2023,0.1857)" font-size="20" fill="#0072bd">CDKN1B</text>
<text transform="translate(420.98,173.85) scale(0.1929,0.1571)" font-size="20" fill="#0072bd">SLC26A</text>
<text transform="translate(442.92,171.70) scale(0.1737,0.1286)" font-size="20" fill="#0072bd">PAK6</text>
<text transform="translate(453.93,171.70) scale(0.1713,0.1286)" font-size="20" fill="#0072bd">NSUN3</text>
<text transform="translate(469.80,171.70) scale(0.1235,0.1304)" font-size="20" fill="#0072bd">PBX1</text>
<text transform="translate(440.82,181.80) scale(0.4803,0.5714)" font-size="20" fill="#0072bd">CLEC4M</text>
<text transform="translate(484.49,182.30) scale(0.7566,0.7429)" font-size="20" fill="#0072bd">EMILIN2</text>
<text transform="translate(545.70,180.30) scale(0.5995,0.6214)" font-size="20" fill="#d95319">CBFA2T3</text>
<text transform="translate(606.05,178.80) scale(0.3478,0.3793)" font-size="20" fill="#0072bd">C21orf33</text>
<text transform="translate(449.82,185.00) scale(0.2358,0.1643)" font-size="20" fill="#d95319">RARG</text>
<text transform="translate(447.89,195.10) scale(0.4564,0.5214)" font-size="20" fill="#d95319">SLC2A12</text>
<text transform="translate(488.80,188.80) scale(0.1716,0.1377)" font-size="20" fill="#d95319">AR</text>
<text transform="translate(497.45,197.00) scale(0.6070,0.6929)" font-size="20" fill="#d95319">SCAPER</text>
<text transform="translate(556.79,190.05) scale(0.2644,0.2786)" font-size="20" fill="#0072bd">CFL2</text>
<text transform="translate(571.54,189.20) scale(0.3946,0.4286)" font-size="20" fill="#d95319">TMEM87B</text>
<text transform="translate(554.45,195.75) scale(0.2533,0.2391)" font-size="20" fill="#0072bd">TRADD</text>
<text transform="translate(588.18,195.75) scale(0.1678,0.1571)" font-size="20" fill="#d95319">RAB39</text>
<text transform="translate(461.57,203.30) scale(0.3208,0.3623)" font-size="20" fill="#d95319">WDR17</text>
<text transform="translate(495.86,204.50) scale(0.3777,0.3929)" font-size="20" fill="#d95319">SHANK2</text>
<text transform="translate(528.75,204.50) scale(0.3663,0.3929)" font-size="20" fill="#d95319">TLN2</text>
<text transform="translate(554.42,204.60) scale(0.3764,0.3929)" font-size="20" fill="#0072bd">CDKN2C</text>
<text transform="translate(525.36,211.50) scale(0.2743,0.2786)" font-size="20" fill="#d95319">KIAA0319</text>
<text x="377.90" y="241.70" font-size="32" fill="#000" text-anchor="start" >C</text>
<text x="428.30" y="242.40" font-size="16.2" fill="#000" text-anchor="start" >Developmental enrichment</text>
<rect x="462.4" y="280.1" width="33.3" height="43.1" fill="#0072bd" stroke="#1b1b1b" stroke-width="0.6"/>
<rect x="503.4" y="273.4" width="33.0" height="49.8" fill="#0072bd" stroke="#1b1b1b" stroke-width="0.6"/>
<rect x="545.0" y="260.3" width="33.3" height="62.9" fill="#0072bd" stroke="#1b1b1b" stroke-width="0.6"/>
<rect x="586.2" y="286.7" width="33.2" height="36.5" fill="#0072bd" stroke="#1b1b1b" stroke-width="0.6"/>
<path d="M429.5,250.6 V323.2 H651.5" fill="none" stroke="#262626" stroke-width="0.8"/>
<line x1="429.5" y1="323.2" x2="431.7" y2="323.2" stroke="#262626" stroke-width="0.8"/>
<text x="421.10" y="327.40" font-size="10" fill="#262626" text-anchor="start" >0</text>
<line x1="429.5" y1="302.6" x2="431.7" y2="302.6" stroke="#262626" stroke-width="0.8"/>
<text x="421.20" y="306.80" font-size="10" fill="#262626" text-anchor="start" >2</text>
<line x1="429.5" y1="282.0" x2="431.7" y2="282.0" stroke="#262626" stroke-width="0.8"/>
<text x="421.00" y="286.20" font-size="10" fill="#262626" text-anchor="start" >4</text>
<line x1="429.5" y1="261.4" x2="431.7" y2="261.4" stroke="#262626" stroke-width="0.8"/>
<text x="421.20" y="265.60" font-size="10" fill="#262626" text-anchor="start" >6</text>
<line x1="479.0" y1="323.2" x2="479.0" y2="321.0" stroke="#262626" stroke-width="0.8"/>
<text transform="translate(483.2,336.7) rotate(-30)" font-size="9.6" fill="#262626" text-anchor="end">Early Childhood</text>
<line x1="519.9" y1="323.2" x2="519.9" y2="321.0" stroke="#262626" stroke-width="0.8"/>
<text transform="translate(524.1,336.7) rotate(-30)" font-size="9.6" fill="#262626" text-anchor="end">Middle Late Childhood</text>
<line x1="561.6" y1="323.2" x2="561.6" y2="321.0" stroke="#262626" stroke-width="0.8"/>
<text transform="translate(565.9,336.7) rotate(-30)" font-size="9.6" fill="#262626" text-anchor="end">Adolescence</text>
<line x1="602.8" y1="323.2" x2="602.8" y2="321.0" stroke="#262626" stroke-width="0.8"/>
<text transform="translate(607.0,336.7) rotate(-30)" font-size="9.6" fill="#262626" text-anchor="end">Young Adulthood</text>
<text transform="translate(412.0,318.3) rotate(-90)" font-size="11.4" fill="#262626">-log<tspan font-size="8.6" dy="4.6">10</tspan><tspan dy="-4.6">(q-val)</tspan></text>
<text x="5.50" y="378.90" font-size="32" fill="#000" text-anchor="start" >D</text>
<text x="60.40" y="381.60" font-size="16.2" fill="#000" text-anchor="start" >GO enrichment (cellular component)</text>
<circle cx="147.4" cy="633.6" r="4.4" fill="#c6d3ef" stroke="#1a1a1a" stroke-width="0.9"/>
<circle cx="147.4" cy="636.2" r="4.4" fill="#c6d3ef" stroke="#1a1a1a" stroke-width="0.9"/>
<circle cx="179.6" cy="615.0" r="3.4" fill="#d8e0f4" stroke="#1a1a1a" stroke-width="0.9"/>
<circle cx="183.3" cy="613.2" r="3.4" fill="#d8e0f4" stroke="#1a1a1a" stroke-width="0.9"/>
<circle cx="276.4" cy="613.3" r="2.9" fill="#d8e0f4" stroke="#1a1a1a" stroke-width="0.9"/>
<circle cx="294.1" cy="621.0" r="2.5" fill="#dce3f5" stroke="#1a1a1a" stroke-width="0.9"/>
<circle cx="78.6" cy="612.6" r="8.4" fill="#cfd9f1" stroke="#1a1a1a" stroke-width="0.9"/>
<circle cx="117.6" cy="655.0" r="4.9" fill="#ffffff" stroke="#1a1a1a" stroke-width="0.9"/>
<circle cx="189.5" cy="584.8" r="3.6" fill="#a9bde8" stroke="#1a1a1a" stroke-width="0.9"/>
<circle cx="165.4" cy="570.2" r="4.7" fill="#8ea8df" stroke="#1a1a1a" stroke-width="0.9"/>
<circle cx="159.6" cy="556.2" r="5.1" fill="#8aa5de" stroke="#1a1a1a" stroke-width="0.9"/>
<circle cx="174.5" cy="556.4" r="4.7" fill="#8aa5de" stroke="#1a1a1a" stroke-width="0.9"/>
<circle cx="219.0" cy="553.0" r="3.6" fill="#86a2dd" stroke="#1a1a1a" stroke-width="0.9"/>
<circle cx="105.5" cy="555.2" r="7.3" fill="#809fdc" stroke="#1a1a1a" stroke-width="0.9"/>
<circle cx="228.1" cy="515.0" r="3.6" fill="#5d86cf" stroke="#1a1a1a" stroke-width="0.9"/>
<circle cx="138.4" cy="470.0" r="6.7" fill="#4a7bc7" stroke="#1a1a1a" stroke-width="0.9"/>
<circle cx="150.4" cy="433.2" r="6.5" fill="#0a60b2" stroke="#1a1a1a" stroke-width="0.9"/>
<circle cx="150.4" cy="429.4" r="6.5" fill="#0967bd" stroke="#1a1a1a" stroke-width="0.9"/>
<path d="M39.9,401.3 V665.0 H339.5" fill="none" stroke="#767676" stroke-width="1.3"/>
<text x="26.00" y="671.60" font-size="14.3" fill="#262626" text-anchor="start" >1</text>
<line x1="40.5" y1="612.3" x2="42.9" y2="612.3" stroke="#333" stroke-width="0.9"/>
<text x="26.10" y="618.88" font-size="14.3" fill="#262626" text-anchor="start" >2</text>
<line x1="40.5" y1="559.6" x2="42.9" y2="559.6" stroke="#333" stroke-width="0.9"/>
<text x="26.00" y="566.16" font-size="14.3" fill="#262626" text-anchor="start" >3</text>
<line x1="40.5" y1="506.8" x2="42.9" y2="506.8" stroke="#333" stroke-width="0.9"/>
<text x="25.80" y="513.44" font-size="14.3" fill="#262626" text-anchor="start" >4</text>
<line x1="40.5" y1="454.1" x2="42.9" y2="454.1" stroke="#333" stroke-width="0.9"/>
<text x="25.90" y="460.72" font-size="14.3" fill="#262626" text-anchor="start" >5</text>
<line x1="40.5" y1="401.4" x2="42.9" y2="401.4" stroke="#333" stroke-width="0.9"/>
<text x="26.00" y="408.00" font-size="14.3" fill="#262626" text-anchor="start" >6</text>
<text x="35.40" y="686.80" font-size="14.3" fill="#262626" text-anchor="start" >1</text>
<line x1="99.6" y1="664.4" x2="99.6" y2="662.0" stroke="#333" stroke-width="0.9"/>
<text x="89.54" y="686.80" font-size="14.3" fill="#262626" text-anchor="start" >1.2</text>
<line x1="159.7" y1="664.4" x2="159.7" y2="662.0" stroke="#333" stroke-width="0.9"/>
<text x="149.43" y="686.80" font-size="14.3" fill="#262626" text-anchor="start" >1.4</text>
<line x1="219.7" y1="664.4" x2="219.7" y2="662.0" stroke="#333" stroke-width="0.9"/>
<text x="209.57" y="686.80" font-size="14.3" fill="#262626" text-anchor="start" >1.6</text>
<line x1="279.8" y1="664.4" x2="279.8" y2="662.0" stroke="#333" stroke-width="0.9"/>
<text x="269.61" y="686.80" font-size="14.3" fill="#262626" text-anchor="start" >1.8</text>
<line x1="339.8" y1="664.4" x2="339.8" y2="662.0" stroke="#333" stroke-width="0.9"/>
<text x="335.85" y="686.80" font-size="14.3" fill="#262626" text-anchor="start" >2</text>
<text x="149.10" y="706.60" font-size="15.8" fill="#262626" text-anchor="start" >Enrichment</text>
<text transform="translate(11.4,575.6) rotate(-90)" font-size="15.8" fill="#262626">-log<tspan font-size="11.5" dy="6.8">10</tspan><tspan dy="-6.8">(q-val)</tspan></text>
<text x="155.20" y="423.90" font-size="10.2" fill="#1a1a1a" text-anchor="start" >intrinsic component of membrane</text>
<text x="153.80" y="448.20" font-size="10.2" fill="#1a1a1a" text-anchor="start" >integral component of membrane</text>
<text x="147.00" y="476.50" font-size="10.2" fill="#1a1a1a" text-anchor="start" >plasma</text>
<text x="147.00" y="489.00" font-size="10.2" fill="#1a1a1a" text-anchor="start" >membrane</text>
<text x="234.40" y="518.70" font-size="10.2" fill="#1a1a1a" text-anchor="start" >neuron projection</text>
<text x="156.70" y="547.50" font-size="10.2" fill="#1a1a1a" text-anchor="start" >neuron part</text>
<text x="218.40" y="546.40" font-size="10.2" fill="#1a1a1a" text-anchor="start" >synapse</text>
<text x="180.00" y="565.00" font-size="10.2" fill="#1a1a1a" text-anchor="start" >plasma membrane</text>
<text x="180.00" y="577.80" font-size="10.2" fill="#1a1a1a" text-anchor="start" >bounded cell projection</text>
<text x="100.10" y="572.00" font-size="10.2" fill="#1a1a1a" text-anchor="start" >membrane</text>
<text x="100.10" y="585.10" font-size="10.2" fill="#1a1a1a" text-anchor="start" >part</text>
<text x="148.90" y="586.60" font-size="10.2" fill="#1a1a1a" text-anchor="start" >cell</text>
<text x="148.60" y="598.60" font-size="10.2" fill="#1a1a1a" text-anchor="start" >projection</text>
<text x="195.00" y="589.50" font-size="10.2" fill="#1a1a1a" text-anchor="start" >synapse part</text>
<text x="377.60" y="414.60" font-size="32" fill="#000" text-anchor="start" >E</text>
<text x="450.60" y="409.90" font-size="16.3" fill="#000" text-anchor="start" >Cell type enrichment</text>
<defs><linearGradient id="rg" gradientUnits="userSpaceOnUse" x1="461.65" y1="0" x2="549.15" y2="0"><stop offset="0.00" stop-color="#0000ff"/><stop offset="0.10" stop-color="#7145ff"/><stop offset="0.20" stop-color="#a074ff"/><stop offset="0.30" stop-color="#c4a2ff"/><stop offset="0.40" stop-color="#e3d0ff"/><stop offset="0.50" stop-color="#ffffff"/><stop offset="0.60" stop-color="#ffd9cb"/><stop offset="0.70" stop-color="#ffb299"/><stop offset="0.80" stop-color="#ff8969"/><stop offset="0.90" stop-color="#ff5b3a"/><stop offset="1.00" stop-color="#ff0000"/></linearGradient><linearGradient id="cb" x1="0" y1="1" x2="0" y2="0"><stop offset="0.00" stop-color="#0000ff"/><stop offset="0.10" stop-color="#7145ff"/><stop offset="0.20" stop-color="#a074ff"/><stop offset="0.30" stop-color="#c4a2ff"/><stop offset="0.40" stop-color="#e3d0ff"/><stop offset="0.50" stop-color="#ffffff"/><stop offset="0.60" stop-color="#ffd9cb"/><stop offset="0.70" stop-color="#ffb299"/><stop offset="0.80" stop-color="#ff8969"/><stop offset="0.90" stop-color="#ff5b3a"/><stop offset="1.00" stop-color="#ff0000"/></linearGradient></defs>
<line x1="439.77" y1="421.4" x2="439.77" y2="671" stroke="#ebebeb" stroke-width="1.1"/>
<line x1="461.65" y1="421.4" x2="461.65" y2="671" stroke="#ebebeb" stroke-width="1.1"/>
<line x1="483.52" y1="421.4" x2="483.52" y2="671" stroke="#ebebeb" stroke-width="1.1"/>
<line x1="505.40" y1="421.4" x2="505.40" y2="671" stroke="#ebebeb" stroke-width="1.1"/>
<line x1="527.27" y1="421.4" x2="527.27" y2="671" stroke="#ebebeb" stroke-width="1.1"/>
<line x1="549.15" y1="421.4" x2="549.15" y2="671" stroke="#ebebeb" stroke-width="1.1"/>
<line x1="571.02" y1="421.4" x2="571.02" y2="671" stroke="#ebebeb" stroke-width="1.1"/>
<line x1="592.90" y1="421.4" x2="592.90" y2="671" stroke="#ebebeb" stroke-width="1.1"/>
<line x1="431" y1="452.50" x2="608.5" y2="452.50" stroke="#ebebeb" stroke-width="1.1"/>
<text x="408.40" y="456.80" font-size="12" fill="#4d4d4d" text-anchor="start" >Ast</text>
<line x1="431" y1="471.37" x2="608.5" y2="471.37" stroke="#ebebeb" stroke-width="1.1"/>
<text x="400.20" y="475.67" font-size="12" fill="#4d4d4d" text-anchor="start" >OPC</text>
<line x1="431" y1="490.24" x2="608.5" y2="490.24" stroke="#ebebeb" stroke-width="1.1"/>
<text x="405.10" y="494.54" font-size="12" fill="#4d4d4d" text-anchor="start" >End</text>
<line x1="431" y1="509.11" x2="608.5" y2="509.11" stroke="#ebebeb" stroke-width="1.1"/>
<text x="402.30" y="513.41" font-size="12" fill="#4d4d4d" text-anchor="start" >In4a</text>
<line x1="431" y1="527.98" x2="608.5" y2="527.98" stroke="#ebebeb" stroke-width="1.1"/>
<text x="409.60" y="532.28" font-size="12" fill="#4d4d4d" text-anchor="start" >In7</text>
<line x1="431" y1="546.85" x2="608.5" y2="546.85" stroke="#ebebeb" stroke-width="1.1"/>
<text x="409.60" y="551.15" font-size="12" fill="#4d4d4d" text-anchor="start" >In2</text>
<line x1="431" y1="565.72" x2="608.5" y2="565.72" stroke="#ebebeb" stroke-width="1.1"/>
<text x="409.50" y="570.02" font-size="12" fill="#4d4d4d" text-anchor="start" >In8</text>
<line x1="431" y1="584.59" x2="608.5" y2="584.59" stroke="#ebebeb" stroke-width="1.1"/>
<text x="402.30" y="588.89" font-size="12" fill="#4d4d4d" text-anchor="start" >In1a</text>
<line x1="431" y1="603.46" x2="608.5" y2="603.46" stroke="#ebebeb" stroke-width="1.1"/>
<text x="405.50" y="607.76" font-size="12" fill="#4d4d4d" text-anchor="start" >Ex8</text>
<line x1="431" y1="622.33" x2="608.5" y2="622.33" stroke="#ebebeb" stroke-width="1.1"/>
<text x="405.60" y="626.63" font-size="12" fill="#4d4d4d" text-anchor="start" >Ex1</text>
<line x1="431" y1="641.20" x2="608.5" y2="641.20" stroke="#ebebeb" stroke-width="1.1"/>
<text x="398.80" y="645.50" font-size="12" fill="#4d4d4d" text-anchor="start" >Ex3e</text>
<line x1="431" y1="660.07" x2="608.5" y2="660.07" stroke="#ebebeb" stroke-width="1.1"/>
<text x="399.10" y="664.37" font-size="12" fill="#4d4d4d" text-anchor="start" >Ex3d</text>
<polygon points="464.20,452.50 464.20,452.49 464.70,452.48 465.20,452.47 465.70,452.46 466.20,452.44 466.70,452.42 467.20,452.39 467.70,452.36 468.20,452.33 468.70,452.29 469.20,452.25 469.70,452.20 470.20,452.15 470.70,452.10 471.20,452.04 471.70,451.98 472.20,451.91 472.70,451.84 473.20,451.76 473.70,451.69 474.20,451.61 474.70,451.52 475.20,451.43 475.70,451.34 476.20,451.24 476.70,451.13 477.20,451.02 477.70,450.89 478.20,450.74 478.70,450.57 479.20,450.38 479.70,450.15 480.20,449.89 480.70,449.59 481.20,449.26 481.70,448.88 482.20,448.48 482.70,448.04 483.20,447.58 483.70,447.08 484.20,446.56 484.70,446.03 485.20,445.47 485.70,444.89 486.20,444.30 486.70,443.68 487.20,443.04 487.70,442.37 488.20,441.66 488.70,440.91 489.20,440.11 489.70,439.27 490.20,438.39 490.70,437.47 491.20,436.52 491.70,435.56 492.20,434.60 492.70,433.64 493.20,432.71 493.70,431.82 494.20,430.96 494.70,430.14 495.20,429.37 495.70,428.63 496.20,427.93 496.70,427.25 497.20,426.60 497.70,425.97 498.20,425.36 498.70,424.78 499.20,424.22 499.70,423.70 500.20,423.21 500.70,422.77 501.20,422.39 501.70,422.06 502.20,421.79 502.70,421.60 503.20,421.47 503.70,421.41 504.20,421.41 504.70,421.48 505.20,421.61 505.70,421.79 506.20,422.01 506.70,422.27 507.20,422.56 507.70,422.87 508.20,423.19 508.70,423.52 509.20,423.85 509.70,424.19 510.20,424.51 510.70,424.83 511.20,425.15 511.70,425.46 512.20,425.77 512.70,426.07 513.20,426.36 513.70,426.66 514.20,426.94 514.70,427.22 515.20,427.48 515.70,427.74 516.20,427.99 516.70,428.22 517.20,428.45 517.70,428.67 518.20,428.89 518.70,429.11 519.20,429.33 519.70,429.55 520.20,429.79 520.70,430.04 521.20,430.31 521.70,430.59 522.20,430.90 522.70,431.23 523.20,431.58 523.70,431.96 524.20,432.35 524.70,432.77 525.20,433.20 525.70,433.65 526.20,434.10 526.70,434.56 527.20,435.02 527.70,435.48 528.20,435.94 528.70,436.39 529.20,436.84 529.70,437.28 530.20,437.71 530.70,438.14 531.20,438.56 531.70,438.98 532.20,439.40 532.70,439.81 533.20,440.22 533.70,440.63 534.20,441.04 534.70,441.45 535.20,441.85 535.70,442.25 536.20,442.65 536.70,443.05 537.20,443.45 537.70,443.85 538.20,444.24 538.70,444.64 539.20,445.04 539.70,445.45 540.20,445.86 540.70,446.28 541.20,446.70 541.70,447.12 542.20,447.55 542.70,447.96 543.20,448.37 543.70,448.77 544.20,449.14 544.70,449.50 545.20,449.83 545.70,450.13 546.20,450.41 546.70,450.65 547.20,450.86 547.70,451.05 548.20,451.21 548.70,451.36 549.20,451.48 549.70,451.59 550.20,451.69 550.70,451.79 551.20,451.87 551.70,451.95 552.20,452.02 552.70,452.08 553.20,452.13 553.70,452.18 554.20,452.22 554.70,452.26 555.20,452.29 555.70,452.31 556.20,452.33 556.70,452.35 557.20,452.37 557.70,452.39 558.20,452.41 558.70,452.42 559.20,452.43 559.70,452.44 560.20,452.45 560.70,452.46 561.20,452.47 561.70,452.48 562.20,452.48 562.70,452.49 563.20,452.49 563.70,452.50 563.70,452.50" fill="url(#rg)"/>
<polyline points="464.20,452.49 464.70,452.48 465.20,452.47 465.70,452.46 466.20,452.44 466.70,452.42 467.20,452.39 467.70,452.36 468.20,452.33 468.70,452.29 469.20,452.25 469.70,452.20 470.20,452.15 470.70,452.10 471.20,452.04 471.70,451.98 472.20,451.91 472.70,451.84 473.20,451.76 473.70,451.69 474.20,451.61 474.70,451.52 475.20,451.43 475.70,451.34 476.20,451.24 476.70,451.13 477.20,451.02 477.70,450.89 478.20,450.74 478.70,450.57 479.20,450.38 479.70,450.15 480.20,449.89 480.70,449.59 481.20,449.26 481.70,448.88 482.20,448.48 482.70,448.04 483.20,447.58 483.70,447.08 484.20,446.56 484.70,446.03 485.20,445.47 485.70,444.89 486.20,444.30 486.70,443.68 487.20,443.04 487.70,442.37 488.20,441.66 488.70,440.91 489.20,440.11 489.70,439.27 490.20,438.39 490.70,437.47 491.20,436.52 491.70,435.56 492.20,434.60 492.70,433.64 493.20,432.71 493.70,431.82 494.20,430.96 494.70,430.14 495.20,429.37 495.70,428.63 496.20,427.93 496.70,427.25 497.20,426.60 497.70,425.97 498.20,425.36 498.70,424.78 499.20,424.22 499.70,423.70 500.20,423.21 500.70,422.77 501.20,422.39 501.70,422.06 502.20,421.79 502.70,421.60 503.20,421.47 503.70,421.41 504.20,421.41 504.70,421.48 505.20,421.61 505.70,421.79 506.20,422.01 506.70,422.27 507.20,422.56 507.70,422.87 508.20,423.19 508.70,423.52 509.20,423.85 509.70,424.19 510.20,424.51 510.70,424.83 511.20,425.15 511.70,425.46 512.20,425.77 512.70,426.07 513.20,426.36 513.70,426.66 514.20,426.94 514.70,427.22 515.20,427.48 515.70,427.74 516.20,427.99 516.70,428.22 517.20,428.45 517.70,428.67 518.20,428.89 518.70,429.11 519.20,429.33 519.70,429.55 520.20,429.79 520.70,430.04 521.20,430.31 521.70,430.59 522.20,430.90 522.70,431.23 523.20,431.58 523.70,431.96 524.20,432.35 524.70,432.77 525.20,433.20 525.70,433.65 526.20,434.10 526.70,434.56 527.20,435.02 527.70,435.48 528.20,435.94 528.70,436.39 529.20,436.84 529.70,437.28 530.20,437.71 530.70,438.14 531.20,438.56 531.70,438.98 532.20,439.40 532.70,439.81 533.20,440.22 533.70,440.63 534.20,441.04 534.70,441.45 535.20,441.85 535.70,442.25 536.20,442.65 536.70,443.05 537.20,443.45 537.70,443.85 538.20,444.24 538.70,444.64 539.20,445.04 539.70,445.45 540.20,445.86 540.70,446.28 541.20,446.70 541.70,447.12 542.20,447.55 542.70,447.96 543.20,448.37 543.70,448.77 544.20,449.14 544.70,449.50 545.20,449.83 545.70,450.13 546.20,450.41 546.70,450.65 547.20,450.86 547.70,451.05 548.20,451.21 548.70,451.36 549.20,451.48 549.70,451.59 550.20,451.69 550.70,451.79 551.20,451.87 551.70,451.95 552.20,452.02 552.70,452.08 553.20,452.13 553.70,452.18 554.20,452.22 554.70,452.26 555.20,452.29 555.70,452.31 556.20,452.33 556.70,452.35 557.20,452.37 557.70,452.39 558.20,452.41 558.70,452.42 559.20,452.43 559.70,452.44 560.20,452.45 560.70,452.46 561.20,452.47 561.70,452.48 562.20,452.48 562.70,452.49 563.20,452.49 563.70,452.50" fill="none" stroke="#000" stroke-width="1.3" stroke-linejoin="round"/>
<polygon points="462.90,471.37 462.90,471.36 463.40,471.35 463.90,471.34 464.40,471.33 464.90,471.31 465.40,471.29 465.90,471.26 466.40,471.23 466.90,471.19 467.40,471.15 467.90,471.11 468.40,471.06 468.90,471.01 469.40,470.95 469.90,470.89 470.40,470.82 470.90,470.76 471.40,470.68 471.90,470.60 472.40,470.52 472.90,470.44 473.40,470.35 473.90,470.26 474.40,470.16 474.90,470.06 475.40,469.96 475.90,469.85 476.40,469.74 476.90,469.63 477.40,469.51 477.90,469.39 478.40,469.26 478.90,469.12 479.40,468.97 479.90,468.81 480.40,468.63 480.90,468.43 481.40,468.19 481.90,467.93 482.40,467.63 482.90,467.30 483.40,466.93 483.90,466.52 484.40,466.09 484.90,465.62 485.40,465.12 485.90,464.60 486.40,464.05 486.90,463.49 487.40,462.90 487.90,462.30 488.40,461.68 488.90,461.05 489.40,460.41 489.90,459.76 490.40,459.09 490.90,458.40 491.40,457.68 491.90,456.93 492.40,456.15 492.90,455.32 493.40,454.46 493.90,453.55 494.40,452.61 494.90,451.66 495.40,450.70 495.90,449.74 496.40,448.81 496.90,447.91 497.40,447.05 497.90,446.25 498.40,445.51 498.90,444.83 499.40,444.21 499.90,443.63 500.40,443.10 500.90,442.60 501.40,442.12 501.90,441.67 502.40,441.24 502.90,440.83 503.40,440.44 503.90,440.07 504.40,439.72 504.90,439.41 505.40,439.12 505.90,438.86 506.40,438.64 506.90,438.46 507.40,438.31 507.90,438.20 508.40,438.12 508.90,438.08 509.40,438.07 509.90,438.09 510.40,438.14 510.90,438.21 511.40,438.30 511.90,438.41 512.40,438.55 512.90,438.69 513.40,438.86 513.90,439.04 514.40,439.24 514.90,439.45 515.40,439.67 515.90,439.91 516.40,440.17 516.90,440.46 517.40,440.78 517.90,441.13 518.40,441.54 518.90,442.01 519.40,442.54 519.90,443.15 520.40,443.82 520.90,444.57 521.40,445.38 521.90,446.23 522.40,447.12 522.90,448.04 523.40,448.97 523.90,449.90 524.40,450.82 524.90,451.73 525.40,452.63 525.90,453.51 526.40,454.38 526.90,455.24 527.40,456.09 527.90,456.94 528.40,457.78 528.90,458.61 529.40,459.42 529.90,460.21 530.40,460.97 530.90,461.70 531.40,462.38 531.90,463.01 532.40,463.60 532.90,464.13 533.40,464.62 533.90,465.07 534.40,465.48 534.90,465.87 535.40,466.23 535.90,466.57 536.40,466.90 536.90,467.21 537.40,467.51 537.90,467.80 538.40,468.08 538.90,468.34 539.40,468.59 539.90,468.82 540.40,469.04 540.90,469.24 541.40,469.43 541.90,469.61 542.40,469.76 542.90,469.90 543.40,470.03 543.90,470.13 544.40,470.23 544.90,470.31 545.40,470.39 545.90,470.45 546.40,470.51 546.90,470.56 547.40,470.62 547.90,470.66 548.40,470.71 548.90,470.76 549.40,470.80 549.90,470.84 550.40,470.88 550.90,470.92 551.40,470.96 551.90,470.99 552.40,471.03 552.90,471.06 553.40,471.09 553.90,471.12 554.40,471.15 554.90,471.18 555.40,471.20 555.90,471.22 556.40,471.24 556.90,471.26 557.40,471.28 557.90,471.30 558.40,471.31 558.90,471.32 559.40,471.34 559.90,471.34 560.40,471.35 560.90,471.36 561.40,471.36 561.90,471.36 561.90,471.37" fill="url(#rg)"/>
<polyline points="462.90,471.36 463.40,471.35 463.90,471.34 464.40,471.33 464.90,471.31 465.40,471.29 465.90,471.26 466.40,471.23 466.90,471.19 467.40,471.15 467.90,471.11 468.40,471.06 468.90,471.01 469.40,470.95 469.90,470.89 470.40,470.82 470.90,470.76 471.40,470.68 471.90,470.60 472.40,470.52 472.90,470.44 473.40,470.35 473.90,470.26 474.40,470.16 474.90,470.06 475.40,469.96 475.90,469.85 476.40,469.74 476.90,469.63 477.40,469.51 477.90,469.39 478.40,469.26 478.90,469.12 479.40,468.97 479.90,468.81 480.40,468.63 480.90,468.43 481.40,468.19 481.90,467.93 482.40,467.63 482.90,467.30 483.40,466.93 483.90,466.52 484.40,466.09 484.90,465.62 485.40,465.12 485.90,464.60 486.40,464.05 486.90,463.49 487.40,462.90 487.90,462.30 488.40,461.68 488.90,461.05 489.40,460.41 489.90,459.76 490.40,459.09 490.90,458.40 491.40,457.68 491.90,456.93 492.40,456.15 492.90,455.32 493.40,454.46 493.90,453.55 494.40,452.61 494.90,451.66 495.40,450.70 495.90,449.74 496.40,448.81 496.90,447.91 497.40,447.05 497.90,446.25 498.40,445.51 498.90,444.83 499.40,444.21 499.90,443.63 500.40,443.10 500.90,442.60 501.40,442.12 501.90,441.67 502.40,441.24 502.90,440.83 503.40,440.44 503.90,440.07 504.40,439.72 504.90,439.41 505.40,439.12 505.90,438.86 506.40,438.64 506.90,438.46 507.40,438.31 507.90,438.20 508.40,438.12 508.90,438.08 509.40,438.07 509.90,438.09 510.40,438.14 510.90,438.21 511.40,438.30 511.90,438.41 512.40,438.55 512.90,438.69 513.40,438.86 513.90,439.04 514.40,439.24 514.90,439.45 515.40,439.67 515.90,439.91 516.40,440.17 516.90,440.46 517.40,440.78 517.90,441.13 518.40,441.54 518.90,442.01 519.40,442.54 519.90,443.15 520.40,443.82 520.90,444.57 521.40,445.38 521.90,446.23 522.40,447.12 522.90,448.04 523.40,448.97 523.90,449.90 524.40,450.82 524.90,451.73 525.40,452.63 525.90,453.51 526.40,454.38 526.90,455.24 527.40,456.09 527.90,456.94 528.40,457.78 528.90,458.61 529.40,459.42 529.90,460.21 530.40,460.97 530.90,461.70 531.40,462.38 531.90,463.01 532.40,463.60 532.90,464.13 533.40,464.62 533.90,465.07 534.40,465.48 534.90,465.87 535.40,466.23 535.90,466.57 536.40,466.90 536.90,467.21 537.40,467.51 537.90,467.80 538.40,468.08 538.90,468.34 539.40,468.59 539.90,468.82 540.40,469.04 540.90,469.24 541.40,469.43 541.90,469.61 542.40,469.76 542.90,469.90 543.40,470.03 543.90,470.13 544.40,470.23 544.90,470.31 545.40,470.39 545.90,470.45 546.40,470.51 546.90,470.56 547.40,470.62 547.90,470.66 548.40,470.71 548.90,470.76 549.40,470.80 549.90,470.84 550.40,470.88 550.90,470.92 551.40,470.96 551.90,470.99 552.40,471.03 552.90,471.06 553.40,471.09 553.90,471.12 554.40,471.15 554.90,471.18 555.40,471.20 555.90,471.22 556.40,471.24 556.90,471.26 557.40,471.28 557.90,471.30 558.40,471.31 558.90,471.32 559.40,471.34 559.90,471.34 560.40,471.35 560.90,471.36 561.40,471.36 561.90,471.36" fill="none" stroke="#000" stroke-width="1.3" stroke-linejoin="round"/>
<polygon points="457.20,490.24 457.20,490.24 457.70,490.23 458.20,490.23 458.70,490.22 459.20,490.22 459.70,490.21 460.20,490.20 460.70,490.19 461.20,490.17 461.70,490.16 462.20,490.14 462.70,490.12 463.20,490.10 463.70,490.08 464.20,490.06 464.70,490.04 465.20,490.01 465.70,489.99 466.20,489.96 466.70,489.94 467.20,489.91 467.70,489.88 468.20,489.85 468.70,489.81 469.20,489.78 469.70,489.74 470.20,489.71 470.70,489.66 471.20,489.62 471.70,489.57 472.20,489.51 472.70,489.45 473.20,489.38 473.70,489.31 474.20,489.23 474.70,489.15 475.20,489.06 475.70,488.96 476.20,488.85 476.70,488.73 477.20,488.59 477.70,488.44 478.20,488.27 478.70,488.06 479.20,487.82 479.70,487.54 480.20,487.21 480.70,486.83 481.20,486.40 481.70,485.93 482.20,485.40 482.70,484.84 483.20,484.24 483.70,483.61 484.20,482.95 484.70,482.28 485.20,481.59 485.70,480.88 486.20,480.18 486.70,479.46 487.20,478.74 487.70,478.01 488.20,477.27 488.70,476.51 489.20,475.73 489.70,474.92 490.20,474.10 490.70,473.26 491.20,472.39 491.70,471.52 492.20,470.65 492.70,469.77 493.20,468.90 493.70,468.05 494.20,467.22 494.70,466.41 495.20,465.64 495.70,464.91 496.20,464.21 496.70,463.55 497.20,462.92 497.70,462.32 498.20,461.75 498.70,461.20 499.20,460.66 499.70,460.14 500.20,459.63 500.70,459.14 501.20,458.66 501.70,458.20 502.20,457.77 502.70,457.36 503.20,456.99 503.70,456.65 504.20,456.35 504.70,456.10 505.20,455.89 505.70,455.73 506.20,455.61 506.70,455.55 507.20,455.54 507.70,455.58 508.20,455.66 508.70,455.79 509.20,455.95 509.70,456.15 510.20,456.39 510.70,456.66 511.20,456.95 511.70,457.27 512.20,457.61 512.70,457.97 513.20,458.35 513.70,458.73 514.20,459.13 514.70,459.54 515.20,459.96 515.70,460.40 516.20,460.85 516.70,461.32 517.20,461.81 517.70,462.33 518.20,462.88 518.70,463.46 519.20,464.07 519.70,464.70 520.20,465.36 520.70,466.03 521.20,466.72 521.70,467.42 522.20,468.12 522.70,468.81 523.20,469.51 523.70,470.19 524.20,470.87 524.70,471.52 525.20,472.17 525.70,472.80 526.20,473.42 526.70,474.03 527.20,474.64 527.70,475.24 528.20,475.83 528.70,476.42 529.20,477.01 529.70,477.58 530.20,478.15 530.70,478.71 531.20,479.25 531.70,479.78 532.20,480.28 532.70,480.77 533.20,481.23 533.70,481.67 534.20,482.09 534.70,482.48 535.20,482.85 535.70,483.20 536.20,483.53 536.70,483.85 537.20,484.16 537.70,484.46 538.20,484.75 538.70,485.04 539.20,485.31 539.70,485.59 540.20,485.85 540.70,486.11 541.20,486.36 541.70,486.60 542.20,486.83 542.70,487.05 543.20,487.26 543.70,487.46 544.20,487.64 544.70,487.82 545.20,487.98 545.70,488.14 546.20,488.28 546.70,488.40 547.20,488.51 547.70,488.62 548.20,488.71 548.70,488.79 549.20,488.86 549.70,488.93 550.20,488.99 550.70,489.04 551.20,489.10 551.70,489.15 552.20,489.20 552.70,489.25 553.20,489.30 553.70,489.35 554.20,489.40 554.70,489.44 555.20,489.49 555.70,489.53 556.20,489.57 556.70,489.61 557.20,489.65 557.70,489.69 558.20,489.73 558.70,489.76 559.20,489.80 559.70,489.83 560.20,489.86 560.70,489.90 561.20,489.93 561.70,489.95 562.20,489.98 562.70,490.01 563.20,490.03 563.70,490.05 564.20,490.08 564.70,490.10 565.20,490.12 565.70,490.13 566.20,490.15 566.70,490.16 567.20,490.18 567.70,490.19 568.20,490.20 568.70,490.21 569.20,490.22 569.70,490.22 570.20,490.23 570.70,490.23 571.20,490.23 571.50,490.24 571.50,490.24" fill="url(#rg)"/>
<polyline points="457.20,490.24 457.70,490.23 458.20,490.23 458.70,490.22 459.20,490.22 459.70,490.21 460.20,490.20 460.70,490.19 461.20,490.17 461.70,490.16 462.20,490.14 462.70,490.12 463.20,490.10 463.70,490.08 464.20,490.06 464.70,490.04 465.20,490.01 465.70,489.99 466.20,489.96 466.70,489.94 467.20,489.91 467.70,489.88 468.20,489.85 468.70,489.81 469.20,489.78 469.70,489.74 470.20,489.71 470.70,489.66 471.20,489.62 471.70,489.57 472.20,489.51 472.70,489.45 473.20,489.38 473.70,489.31 474.20,489.23 474.70,489.15 475.20,489.06 475.70,488.96 476.20,488.85 476.70,488.73 477.20,488.59 477.70,488.44 478.20,488.27 478.70,488.06 479.20,487.82 479.70,487.54 480.20,487.21 480.70,486.83 481.20,486.40 481.70,485.93 482.20,485.40 482.70,484.84 483.20,484.24 483.70,483.61 484.20,482.95 484.70,482.28 485.20,481.59 485.70,480.88 486.20,480.18 486.70,479.46 487.20,478.74 487.70,478.01 488.20,477.27 488.70,476.51 489.20,475.73 489.70,474.92 490.20,474.10 490.70,473.26 491.20,472.39 491.70,471.52 492.20,470.65 492.70,469.77 493.20,468.90 493.70,468.05 494.20,467.22 494.70,466.41 495.20,465.64 495.70,464.91 496.20,464.21 496.70,463.55 497.20,462.92 497.70,462.32 498.20,461.75 498.70,461.20 499.20,460.66 499.70,460.14 500.20,459.63 500.70,459.14 501.20,458.66 501.70,458.20 502.20,457.77 502.70,457.36 503.20,456.99 503.70,456.65 504.20,456.35 504.70,456.10 505.20,455.89 505.70,455.73 506.20,455.61 506.70,455.55 507.20,455.54 507.70,455.58 508.20,455.66 508.70,455.79 509.20,455.95 509.70,456.15 510.20,456.39 510.70,456.66 511.20,456.95 511.70,457.27 512.20,457.61 512.70,457.97 513.20,458.35 513.70,458.73 514.20,459.13 514.70,459.54 515.20,459.96 515.70,460.40 516.20,460.85 516.70,461.32 517.20,461.81 517.70,462.33 518.20,462.88 518.70,463.46 519.20,464.07 519.70,464.70 520.20,465.36 520.70,466.03 521.20,466.72 521.70,467.42 522.20,468.12 522.70,468.81 523.20,469.51 523.70,470.19 524.20,470.87 524.70,471.52 525.20,472.17 525.70,472.80 526.20,473.42 526.70,474.03 527.20,474.64 527.70,475.24 528.20,475.83 528.70,476.42 529.20,477.01 529.70,477.58 530.20,478.15 530.70,478.71 531.20,479.25 531.70,479.78 532.20,480.28 532.70,480.77 533.20,481.23 533.70,481.67 534.20,482.09 534.70,482.48 535.20,482.85 535.70,483.20 536.20,483.53 536.70,483.85 537.20,484.16 537.70,484.46 538.20,484.75 538.70,485.04 539.20,485.31 539.70,485.59 540.20,485.85 540.70,486.11 541.20,486.36 541.70,486.60 542.20,486.83 542.70,487.05 543.20,487.26 543.70,487.46 544.20,487.64 544.70,487.82 545.20,487.98 545.70,488.14 546.20,488.28 546.70,488.40 547.20,488.51 547.70,488.62 548.20,488.71 548.70,488.79 549.20,488.86 549.70,488.93 550.20,488.99 550.70,489.04 551.20,489.10 551.70,489.15 552.20,489.20 552.70,489.25 553.20,489.30 553.70,489.35 554.20,489.40 554.70,489.44 555.20,489.49 555.70,489.53 556.20,489.57 556.70,489.61 557.20,489.65 557.70,489.69 558.20,489.73 558.70,489.76 559.20,489.80 559.70,489.83 560.20,489.86 560.70,489.90 561.20,489.93 561.70,489.95 562.20,489.98 562.70,490.01 563.20,490.03 563.70,490.05 564.20,490.08 564.70,490.10 565.20,490.12 565.70,490.13 566.20,490.15 566.70,490.16 567.20,490.18 567.70,490.19 568.20,490.20 568.70,490.21 569.20,490.22 569.70,490.22 570.20,490.23 570.70,490.23 571.20,490.23 571.50,490.24" fill="none" stroke="#000" stroke-width="1.3" stroke-linejoin="round"/>
<polygon points="469.90,509.11 469.90,509.04 470.40,509.00 470.90,508.95 471.40,508.88 471.90,508.80 472.40,508.71 472.90,508.60 473.40,508.47 473.90,508.33 474.40,508.18 474.90,508.02 475.40,507.85 475.90,507.67 476.40,507.49 476.90,507.29 477.40,507.09 477.90,506.87 478.40,506.65 478.90,506.41 479.40,506.16 479.90,505.90 480.40,505.61 480.90,505.31 481.40,504.98 481.90,504.64 482.40,504.28 482.90,503.89 483.40,503.49 483.90,503.06 484.40,502.62 484.90,502.15 485.40,501.66 485.90,501.14 486.40,500.60 486.90,500.02 487.40,499.40 487.90,498.73 488.40,498.01 488.90,497.22 489.40,496.36 489.90,495.43 490.40,494.43 490.90,493.36 491.40,492.24 491.90,491.07 492.40,489.87 492.90,488.63 493.40,487.39 493.90,486.14 494.40,484.89 494.90,483.66 495.40,482.46 495.90,481.28 496.40,480.13 496.90,479.00 497.40,477.90 497.90,476.81 498.40,475.72 498.90,474.64 499.40,473.56 499.90,472.48 500.40,471.41 500.90,470.35 501.40,469.33 501.90,468.33 502.40,467.39 502.90,466.52 503.40,465.72 503.90,465.00 504.40,464.39 504.90,463.89 505.40,463.52 505.90,463.29 506.40,463.21 506.90,463.29 507.40,463.52 507.90,463.92 508.40,464.47 508.90,465.17 509.40,466.01 509.90,466.97 510.40,468.04 510.90,469.20 511.40,470.44 511.90,471.73 512.40,473.07 512.90,474.42 513.40,475.78 513.90,477.14 514.40,478.47 514.90,479.78 515.40,481.06 515.90,482.30 516.40,483.51 516.90,484.71 517.40,485.89 517.90,487.06 518.40,488.23 518.90,489.41 519.40,490.58 519.90,491.75 520.40,492.91 520.90,494.04 521.40,495.15 521.90,496.22 522.40,497.24 522.90,498.21 523.40,499.11 523.90,499.95 524.40,500.72 524.90,501.41 525.40,502.04 525.90,502.60 526.40,503.11 526.90,503.57 527.40,504.00 527.90,504.40 528.40,504.78 528.90,505.14 529.40,505.48 529.90,505.81 530.40,506.12 530.90,506.42 531.40,506.71 531.90,506.97 532.40,507.22 532.90,507.45 533.40,507.66 533.90,507.85 534.40,508.02 534.90,508.18 535.40,508.31 535.90,508.42 536.40,508.51 536.90,508.59 537.40,508.65 537.90,508.70 538.40,508.74 538.90,508.77 539.40,508.80 539.90,508.83 540.40,508.85 540.90,508.88 541.40,508.90 541.90,508.92 542.40,508.94 542.90,508.95 543.40,508.97 543.90,508.99 544.40,509.00 544.90,509.01 545.40,509.03 545.90,509.04 546.40,509.05 546.90,509.06 547.40,509.07 547.90,509.08 548.40,509.08 548.90,509.09 549.40,509.10 549.90,509.10 550.40,509.10 550.90,509.11 551.40,509.11 551.40,509.11" fill="url(#rg)"/>
<polyline points="469.90,509.04 470.40,509.00 470.90,508.95 471.40,508.88 471.90,508.80 472.40,508.71 472.90,508.60 473.40,508.47 473.90,508.33 474.40,508.18 474.90,508.02 475.40,507.85 475.90,507.67 476.40,507.49 476.90,507.29 477.40,507.09 477.90,506.87 478.40,506.65 478.90,506.41 479.40,506.16 479.90,505.90 480.40,505.61 480.90,505.31 481.40,504.98 481.90,504.64 482.40,504.28 482.90,503.89 483.40,503.49 483.90,503.06 484.40,502.62 484.90,502.15 485.40,501.66 485.90,501.14 486.40,500.60 486.90,500.02 487.40,499.40 487.90,498.73 488.40,498.01 488.90,497.22 489.40,496.36 489.90,495.43 490.40,494.43 490.90,493.36 491.40,492.24 491.90,491.07 492.40,489.87 492.90,488.63 493.40,487.39 493.90,486.14 494.40,484.89 494.90,483.66 495.40,482.46 495.90,481.28 496.40,480.13 496.90,479.00 497.40,477.90 497.90,476.81 498.40,475.72 498.90,474.64 499.40,473.56 499.90,472.48 500.40,471.41 500.90,470.35 501.40,469.33 501.90,468.33 502.40,467.39 502.90,466.52 503.40,465.72 503.90,465.00 504.40,464.39 504.90,463.89 505.40,463.52 505.90,463.29 506.40,463.21 506.90,463.29 507.40,463.52 507.90,463.92 508.40,464.47 508.90,465.17 509.40,466.01 509.90,466.97 510.40,468.04 510.90,469.20 511.40,470.44 511.90,471.73 512.40,473.07 512.90,474.42 513.40,475.78 513.90,477.14 514.40,478.47 514.90,479.78 515.40,481.06 515.90,482.30 516.40,483.51 516.90,484.71 517.40,485.89 517.90,487.06 518.40,488.23 518.90,489.41 519.40,490.58 519.90,491.75 520.40,492.91 520.90,494.04 521.40,495.15 521.90,496.22 522.40,497.24 522.90,498.21 523.40,499.11 523.90,499.95 524.40,500.72 524.90,501.41 525.40,502.04 525.90,502.60 526.40,503.11 526.90,503.57 527.40,504.00 527.90,504.40 528.40,504.78 528.90,505.14 529.40,505.48 529.90,505.81 530.40,506.12 530.90,506.42 531.40,506.71 531.90,506.97 532.40,507.22 532.90,507.45 533.40,507.66 533.90,507.85 534.40,508.02 534.90,508.18 535.40,508.31 535.90,508.42 536.40,508.51 536.90,508.59 537.40,508.65 537.90,508.70 538.40,508.74 538.90,508.77 539.40,508.80 539.90,508.83 540.40,508.85 540.90,508.88 541.40,508.90 541.90,508.92 542.40,508.94 542.90,508.95 543.40,508.97 543.90,508.99 544.40,509.00 544.90,509.01 545.40,509.03 545.90,509.04 546.40,509.05 546.90,509.06 547.40,509.07 547.90,509.08 548.40,509.08 548.90,509.09 549.40,509.10 549.90,509.10 550.40,509.10 550.90,509.11 551.40,509.11" fill="none" stroke="#000" stroke-width="1.3" stroke-linejoin="round"/>
<polygon points="467.10,527.98 467.10,527.94 467.60,527.92 468.10,527.89 468.60,527.84 469.10,527.79 469.60,527.73 470.10,527.65 470.60,527.56 471.10,527.45 471.60,527.34 472.10,527.21 472.60,527.08 473.10,526.93 473.60,526.77 474.10,526.61 474.60,526.43 475.10,526.24 475.60,526.05 476.10,525.85 476.60,525.63 477.10,525.40 477.60,525.15 478.10,524.88 478.60,524.58 479.10,524.24 479.60,523.86 480.10,523.43 480.60,522.95 481.10,522.43 481.60,521.85 482.10,521.24 482.60,520.58 483.10,519.89 483.60,519.17 484.10,518.42 484.60,517.66 485.10,516.88 485.60,516.08 486.10,515.28 486.60,514.47 487.10,513.65 487.60,512.83 488.10,511.98 488.60,511.12 489.10,510.23 489.60,509.32 490.10,508.39 490.60,507.43 491.10,506.45 491.60,505.45 492.10,504.45 492.60,503.45 493.10,502.46 493.60,501.48 494.10,500.52 494.60,499.58 495.10,498.69 495.60,497.83 496.10,497.01 496.60,496.22 497.10,495.48 497.60,494.77 498.10,494.08 498.60,493.42 499.10,492.78 499.60,492.15 500.10,491.54 500.60,490.95 501.10,490.39 501.60,489.85 502.10,489.35 502.60,488.89 503.10,488.48 503.60,488.13 504.10,487.84 504.60,487.63 505.10,487.51 505.60,487.49 506.10,487.58 506.60,487.79 507.10,488.13 507.60,488.60 508.10,489.19 508.60,489.91 509.10,490.74 509.60,491.66 510.10,492.66 510.60,493.73 511.10,494.84 511.60,495.97 512.10,497.12 512.60,498.28 513.10,499.42 513.60,500.55 514.10,501.66 514.60,502.76 515.10,503.85 515.60,504.93 516.10,506.02 516.60,507.10 517.10,508.19 517.60,509.28 518.10,510.35 518.60,511.41 519.10,512.45 519.60,513.45 520.10,514.41 520.60,515.33 521.10,516.20 521.60,517.03 522.10,517.80 522.60,518.54 523.10,519.23 523.60,519.90 524.10,520.53 524.60,521.14 525.10,521.72 525.60,522.27 526.10,522.79 526.60,523.29 527.10,523.75 527.60,524.18 528.10,524.57 528.60,524.93 529.10,525.26 529.60,525.55 530.10,525.82 530.60,526.07 531.10,526.30 531.60,526.51 532.10,526.70 532.60,526.87 533.10,527.03 533.60,527.17 534.10,527.29 534.60,527.40 535.10,527.49 535.60,527.56 536.10,527.62 536.60,527.67 537.10,527.71 537.60,527.74 538.10,527.76 538.60,527.79 539.10,527.81 539.60,527.83 540.10,527.84 540.60,527.86 541.10,527.87 541.60,527.89 542.10,527.90 542.60,527.91 543.10,527.92 543.60,527.93 544.10,527.94 544.60,527.95 545.10,527.96 545.60,527.96 546.10,527.97 546.60,527.97 547.10,527.97 547.60,527.98 548.10,527.98 548.10,527.98" fill="url(#rg)"/>
<polyline points="467.10,527.94 467.60,527.92 468.10,527.89 468.60,527.84 469.10,527.79 469.60,527.73 470.10,527.65 470.60,527.56 471.10,527.45 471.60,527.34 472.10,527.21 472.60,527.08 473.10,526.93 473.60,526.77 474.10,526.61 474.60,526.43 475.10,526.24 475.60,526.05 476.10,525.85 476.60,525.63 477.10,525.40 477.60,525.15 478.10,524.88 478.60,524.58 479.10,524.24 479.60,523.86 480.10,523.43 480.60,522.95 481.10,522.43 481.60,521.85 482.10,521.24 482.60,520.58 483.10,519.89 483.60,519.17 484.10,518.42 484.60,517.66 485.10,516.88 485.60,516.08 486.10,515.28 486.60,514.47 487.10,513.65 487.60,512.83 488.10,511.98 488.60,511.12 489.10,510.23 489.60,509.32 490.10,508.39 490.60,507.43 491.10,506.45 491.60,505.45 492.10,504.45 492.60,503.45 493.10,502.46 493.60,501.48 494.10,500.52 494.60,499.58 495.10,498.69 495.60,497.83 496.10,497.01 496.60,496.22 497.10,495.48 497.60,494.77 498.10,494.08 498.60,493.42 499.10,492.78 499.60,492.15 500.10,491.54 500.60,490.95 501.10,490.39 501.60,489.85 502.10,489.35 502.60,488.89 503.10,488.48 503.60,488.13 504.10,487.84 504.60,487.63 505.10,487.51 505.60,487.49 506.10,487.58 506.60,487.79 507.10,488.13 507.60,488.60 508.10,489.19 508.60,489.91 509.10,490.74 509.60,491.66 510.10,492.66 510.60,493.73 511.10,494.84 511.60,495.97 512.10,497.12 512.60,498.28 513.10,499.42 513.60,500.55 514.10,501.66 514.60,502.76 515.10,503.85 515.60,504.93 516.10,506.02 516.60,507.10 517.10,508.19 517.60,509.28 518.10,510.35 518.60,511.41 519.10,512.45 519.60,513.45 520.10,514.41 520.60,515.33 521.10,516.20 521.60,517.03 522.10,517.80 522.60,518.54 523.10,519.23 523.60,519.90 524.10,520.53 524.60,521.14 525.10,521.72 525.60,522.27 526.10,522.79 526.60,523.29 527.10,523.75 527.60,524.18 528.10,524.57 528.60,524.93 529.10,525.26 529.60,525.55 530.10,525.82 530.60,526.07 531.10,526.30 531.60,526.51 532.10,526.70 532.60,526.87 533.10,527.03 533.60,527.17 534.10,527.29 534.60,527.40 535.10,527.49 535.60,527.56 536.10,527.62 536.60,527.67 537.10,527.71 537.60,527.74 538.10,527.76 538.60,527.79 539.10,527.81 539.60,527.83 540.10,527.84 540.60,527.86 541.10,527.87 541.60,527.89 542.10,527.90 542.60,527.91 543.10,527.92 543.60,527.93 544.10,527.94 544.60,527.95 545.10,527.96 545.60,527.96 546.10,527.97 546.60,527.97 547.10,527.97 547.60,527.98 548.10,527.98" fill="none" stroke="#000" stroke-width="1.3" stroke-linejoin="round"/>
<polygon points="464.20,546.85 464.20,546.82 464.70,546.80 465.20,546.78 465.70,546.75 466.20,546.70 466.70,546.65 467.20,546.59 467.70,546.52 468.20,546.44 468.70,546.34 469.20,546.24 469.70,546.13 470.20,546.01 470.70,545.88 471.20,545.74 471.70,545.59 472.20,545.43 472.70,545.26 473.20,545.08 473.70,544.90 474.20,544.70 474.70,544.50 475.20,544.29 475.70,544.07 476.20,543.84 476.70,543.60 477.20,543.34 477.70,543.05 478.20,542.73 478.70,542.36 479.20,541.95 479.70,541.47 480.20,540.93 480.70,540.32 481.20,539.64 481.70,538.89 482.20,538.08 482.70,537.20 483.20,536.26 483.70,535.27 484.20,534.23 484.70,533.15 485.20,532.02 485.70,530.84 486.20,529.62 486.70,528.34 487.20,526.99 487.70,525.56 488.20,524.04 488.70,522.41 489.20,520.67 489.70,518.84 490.20,516.95 490.70,515.02 491.20,513.09 491.70,511.21 492.20,509.41 492.70,507.73 493.20,506.18 493.70,504.75 494.20,503.46 494.70,502.28 495.20,501.21 495.70,500.23 496.20,499.34 496.70,498.55 497.20,497.85 497.70,497.27 498.20,496.81 498.70,496.50 499.20,496.36 499.70,496.39 500.20,496.61 500.70,497.02 501.20,497.62 501.70,498.40 502.20,499.35 502.70,500.43 503.20,501.63 503.70,502.91 504.20,504.25 504.70,505.62 505.20,507.00 505.70,508.36 506.20,509.70 506.70,511.01 507.20,512.28 507.70,513.53 508.20,514.75 508.70,515.95 509.20,517.15 509.70,518.34 510.20,519.52 510.70,520.69 511.20,521.85 511.70,523.00 512.20,524.14 512.70,525.26 513.20,526.36 513.70,527.46 514.20,528.54 514.70,529.61 515.20,530.68 515.70,531.74 516.20,532.80 516.70,533.85 517.20,534.89 517.70,535.90 518.20,536.88 518.70,537.81 519.20,538.69 519.70,539.51 520.20,540.26 520.70,540.94 521.20,541.54 521.70,542.07 522.20,542.53 522.70,542.93 523.20,543.29 523.70,543.61 524.20,543.90 524.70,544.17 525.20,544.42 525.70,544.66 526.20,544.88 526.70,545.09 527.20,545.28 527.70,545.46 528.20,545.63 528.70,545.78 529.20,545.92 529.70,546.05 530.20,546.16 530.70,546.25 531.20,546.34 531.70,546.40 532.20,546.46 532.70,546.51 533.20,546.55 533.70,546.58 534.20,546.61 534.70,546.63 535.20,546.65 535.70,546.67 536.20,546.69 536.70,546.71 537.20,546.72 537.70,546.74 538.20,546.75 538.70,546.77 539.20,546.78 539.70,546.79 540.20,546.80 540.70,546.81 541.20,546.82 541.70,546.82 542.20,546.83 542.70,546.84 543.20,546.84 543.70,546.84 544.20,546.85 544.70,546.85 544.70,546.85" fill="url(#rg)"/>
<polyline points="464.20,546.82 464.70,546.80 465.20,546.78 465.70,546.75 466.20,546.70 466.70,546.65 467.20,546.59 467.70,546.52 468.20,546.44 468.70,546.34 469.20,546.24 469.70,546.13 470.20,546.01 470.70,545.88 471.20,545.74 471.70,545.59 472.20,545.43 472.70,545.26 473.20,545.08 473.70,544.90 474.20,544.70 474.70,544.50 475.20,544.29 475.70,544.07 476.20,543.84 476.70,543.60 477.20,543.34 477.70,543.05 478.20,542.73 478.70,542.36 479.20,541.95 479.70,541.47 480.20,540.93 480.70,540.32 481.20,539.64 481.70,538.89 482.20,538.08 482.70,537.20 483.20,536.26 483.70,535.27 484.20,534.23 484.70,533.15 485.20,532.02 485.70,530.84 486.20,529.62 486.70,528.34 487.20,526.99 487.70,525.56 488.20,524.04 488.70,522.41 489.20,520.67 489.70,518.84 490.20,516.95 490.70,515.02 491.20,513.09 491.70,511.21 492.20,509.41 492.70,507.73 493.20,506.18 493.70,504.75 494.20,503.46 494.70,502.28 495.20,501.21 495.70,500.23 496.20,499.34 496.70,498.55 497.20,497.85 497.70,497.27 498.20,496.81 498.70,496.50 499.20,496.36 499.70,496.39 500.20,496.61 500.70,497.02 501.20,497.62 501.70,498.40 502.20,499.35 502.70,500.43 503.20,501.63 503.70,502.91 504.20,504.25 504.70,505.62 505.20,507.00 505.70,508.36 506.20,509.70 506.70,511.01 507.20,512.28 507.70,513.53 508.20,514.75 508.70,515.95 509.20,517.15 509.70,518.34 510.20,519.52 510.70,520.69 511.20,521.85 511.70,523.00 512.20,524.14 512.70,525.26 513.20,526.36 513.70,527.46 514.20,528.54 514.70,529.61 515.20,530.68 515.70,531.74 516.20,532.80 516.70,533.85 517.20,534.89 517.70,535.90 518.20,536.88 518.70,537.81 519.20,538.69 519.70,539.51 520.20,540.26 520.70,540.94 521.20,541.54 521.70,542.07 522.20,542.53 522.70,542.93 523.20,543.29 523.70,543.61 524.20,543.90 524.70,544.17 525.20,544.42 525.70,544.66 526.20,544.88 526.70,545.09 527.20,545.28 527.70,545.46 528.20,545.63 528.70,545.78 529.20,545.92 529.70,546.05 530.20,546.16 530.70,546.25 531.20,546.34 531.70,546.40 532.20,546.46 532.70,546.51 533.20,546.55 533.70,546.58 534.20,546.61 534.70,546.63 535.20,546.65 535.70,546.67 536.20,546.69 536.70,546.71 537.20,546.72 537.70,546.74 538.20,546.75 538.70,546.77 539.20,546.78 539.70,546.79 540.20,546.80 540.70,546.81 541.20,546.82 541.70,546.82 542.20,546.83 542.70,546.84 543.20,546.84 543.70,546.84 544.20,546.85 544.70,546.85" fill="none" stroke="#000" stroke-width="1.3" stroke-linejoin="round"/>
<polygon points="478.50,565.72 478.50,565.66 479.00,565.62 479.50,565.57 480.00,565.50 480.50,565.41 481.00,565.30 481.50,565.17 482.00,565.03 482.50,564.86 483.00,564.67 483.50,564.47 484.00,564.25 484.50,564.01 485.00,563.76 485.50,563.49 486.00,563.20 486.50,562.89 487.00,562.55 487.50,562.17 488.00,561.74 488.50,561.25 489.00,560.70 489.50,560.08 490.00,559.38 490.50,558.61 491.00,557.77 491.50,556.87 492.00,555.92 492.50,554.92 493.00,553.89 493.50,552.83 494.00,551.74 494.50,550.64 495.00,549.51 495.50,548.37 496.00,547.19 496.50,545.98 497.00,544.74 497.50,543.47 498.00,542.17 498.50,540.84 499.00,539.51 499.50,538.17 500.00,536.85 500.50,535.54 501.00,534.27 501.50,533.03 502.00,531.82 502.50,530.66 503.00,529.54 503.50,528.44 504.00,527.37 504.50,526.32 505.00,525.28 505.50,524.25 506.00,523.24 506.50,522.24 507.00,521.28 507.50,520.35 508.00,519.47 508.50,518.64 509.00,517.88 509.50,517.19 510.00,516.59 510.50,516.09 511.00,515.70 511.50,515.44 512.00,515.32 512.50,515.37 513.00,515.60 513.50,516.01 514.00,516.61 514.50,517.39 515.00,518.34 515.50,519.45 516.00,520.69 516.50,522.04 517.00,523.46 517.50,524.93 518.00,526.42 518.50,527.92 519.00,529.41 519.50,530.87 520.00,532.31 520.50,533.73 521.00,535.12 521.50,536.51 522.00,537.89 522.50,539.26 523.00,540.63 523.50,541.99 524.00,543.33 524.50,544.64 525.00,545.92 525.50,547.15 526.00,548.33 526.50,549.46 527.00,550.53 527.50,551.54 528.00,552.50 528.50,553.41 529.00,554.28 529.50,555.12 530.00,555.92 530.50,556.69 531.00,557.42 531.50,558.12 532.00,558.77 532.50,559.37 533.00,559.93 533.50,560.43 534.00,560.87 534.50,561.26 535.00,561.60 535.50,561.89 536.00,562.15 536.50,562.37 537.00,562.58 537.50,562.76 538.00,562.94 538.50,563.10 539.00,563.26 539.50,563.41 540.00,563.56 540.50,563.70 541.00,563.84 541.50,563.97 542.00,564.10 542.50,564.23 543.00,564.34 543.50,564.46 544.00,564.57 544.50,564.67 545.00,564.77 545.50,564.87 546.00,564.95 546.50,565.04 547.00,565.12 547.50,565.19 548.00,565.26 548.50,565.33 549.00,565.39 549.50,565.44 550.00,565.49 550.50,565.53 551.00,565.57 551.50,565.60 552.00,565.63 552.50,565.66 553.00,565.67 553.50,565.69 554.00,565.70 554.40,565.71 554.40,565.72" fill="url(#rg)"/>
<polyline points="478.50,565.66 479.00,565.62 479.50,565.57 480.00,565.50 480.50,565.41 481.00,565.30 481.50,565.17 482.00,565.03 482.50,564.86 483.00,564.67 483.50,564.47 484.00,564.25 484.50,564.01 485.00,563.76 485.50,563.49 486.00,563.20 486.50,562.89 487.00,562.55 487.50,562.17 488.00,561.74 488.50,561.25 489.00,560.70 489.50,560.08 490.00,559.38 490.50,558.61 491.00,557.77 491.50,556.87 492.00,555.92 492.50,554.92 493.00,553.89 493.50,552.83 494.00,551.74 494.50,550.64 495.00,549.51 495.50,548.37 496.00,547.19 496.50,545.98 497.00,544.74 497.50,543.47 498.00,542.17 498.50,540.84 499.00,539.51 499.50,538.17 500.00,536.85 500.50,535.54 501.00,534.27 501.50,533.03 502.00,531.82 502.50,530.66 503.00,529.54 503.50,528.44 504.00,527.37 504.50,526.32 505.00,525.28 505.50,524.25 506.00,523.24 506.50,522.24 507.00,521.28 507.50,520.35 508.00,519.47 508.50,518.64 509.00,517.88 509.50,517.19 510.00,516.59 510.50,516.09 511.00,515.70 511.50,515.44 512.00,515.32 512.50,515.37 513.00,515.60 513.50,516.01 514.00,516.61 514.50,517.39 515.00,518.34 515.50,519.45 516.00,520.69 516.50,522.04 517.00,523.46 517.50,524.93 518.00,526.42 518.50,527.92 519.00,529.41 519.50,530.87 520.00,532.31 520.50,533.73 521.00,535.12 521.50,536.51 522.00,537.89 522.50,539.26 523.00,540.63 523.50,541.99 524.00,543.33 524.50,544.64 525.00,545.92 525.50,547.15 526.00,548.33 526.50,549.46 527.00,550.53 527.50,551.54 528.00,552.50 528.50,553.41 529.00,554.28 529.50,555.12 530.00,555.92 530.50,556.69 531.00,557.42 531.50,558.12 532.00,558.77 532.50,559.37 533.00,559.93 533.50,560.43 534.00,560.87 534.50,561.26 535.00,561.60 535.50,561.89 536.00,562.15 536.50,562.37 537.00,562.58 537.50,562.76 538.00,562.94 538.50,563.10 539.00,563.26 539.50,563.41 540.00,563.56 540.50,563.70 541.00,563.84 541.50,563.97 542.00,564.10 542.50,564.23 543.00,564.34 543.50,564.46 544.00,564.57 544.50,564.67 545.00,564.77 545.50,564.87 546.00,564.95 546.50,565.04 547.00,565.12 547.50,565.19 548.00,565.26 548.50,565.33 549.00,565.39 549.50,565.44 550.00,565.49 550.50,565.53 551.00,565.57 551.50,565.60 552.00,565.63 552.50,565.66 553.00,565.67 553.50,565.69 554.00,565.70 554.40,565.71" fill="none" stroke="#000" stroke-width="1.3" stroke-linejoin="round"/>
<polygon points="473.70,584.59 473.70,584.53 474.20,584.50 474.70,584.45 475.20,584.38 475.70,584.30 476.20,584.20 476.70,584.08 477.20,583.94 477.70,583.78 478.20,583.60 478.70,583.41 479.20,583.19 479.70,582.96 480.20,582.71 480.70,582.44 481.20,582.16 481.70,581.87 482.20,581.56 482.70,581.23 483.20,580.90 483.70,580.54 484.20,580.18 484.70,579.81 485.20,579.42 485.70,579.01 486.20,578.59 486.70,578.14 487.20,577.66 487.70,577.14 488.20,576.56 488.70,575.92 489.20,575.21 489.70,574.43 490.20,573.56 490.70,572.63 491.20,571.64 491.70,570.59 492.20,569.50 492.70,568.37 493.20,567.23 493.70,566.07 494.20,564.90 494.70,563.73 495.20,562.55 495.70,561.36 496.20,560.16 496.70,558.95 497.20,557.71 497.70,556.47 498.20,555.22 498.70,553.97 499.20,552.74 499.70,551.54 500.20,550.38 500.70,549.28 501.20,548.25 501.70,547.30 502.20,546.41 502.70,545.61 503.20,544.88 503.70,544.21 504.20,543.59 504.70,543.01 505.20,542.48 505.70,541.97 506.20,541.50 506.70,541.07 507.20,540.67 507.70,540.32 508.20,540.01 508.70,539.74 509.20,539.54 509.70,539.39 510.20,539.31 510.70,539.29 511.20,539.34 511.70,539.46 512.20,539.65 512.70,539.90 513.20,540.21 513.70,540.59 514.20,541.02 514.70,541.50 515.20,542.02 515.70,542.58 516.20,543.17 516.70,543.79 517.20,544.43 517.70,545.09 518.20,545.77 518.70,546.47 519.20,547.18 519.70,547.91 520.20,548.67 520.70,549.46 521.20,550.29 521.70,551.16 522.20,552.07 522.70,553.03 523.20,554.03 523.70,555.06 524.20,556.12 524.70,557.20 525.20,558.30 525.70,559.39 526.20,560.49 526.70,561.57 527.20,562.63 527.70,563.67 528.20,564.68 528.70,565.66 529.20,566.60 529.70,567.53 530.20,568.42 530.70,569.30 531.20,570.17 531.70,571.02 532.20,571.86 532.70,572.69 533.20,573.50 533.70,574.30 534.20,575.08 534.70,575.82 535.20,576.54 535.70,577.22 536.20,577.87 536.70,578.47 537.20,579.02 537.70,579.53 538.20,579.98 538.70,580.40 539.20,580.78 539.70,581.12 540.20,581.43 540.70,581.72 541.20,581.99 541.70,582.25 542.20,582.50 542.70,582.73 543.20,582.95 543.70,583.16 544.20,583.36 544.70,583.55 545.20,583.72 545.70,583.88 546.20,584.02 546.70,584.14 547.20,584.25 547.70,584.34 548.20,584.41 548.70,584.47 549.20,584.51 549.60,584.54 549.60,584.59" fill="url(#rg)"/>
<polyline points="473.70,584.53 474.20,584.50 474.70,584.45 475.20,584.38 475.70,584.30 476.20,584.20 476.70,584.08 477.20,583.94 477.70,583.78 478.20,583.60 478.70,583.41 479.20,583.19 479.70,582.96 480.20,582.71 480.70,582.44 481.20,582.16 481.70,581.87 482.20,581.56 482.70,581.23 483.20,580.90 483.70,580.54 484.20,580.18 484.70,579.81 485.20,579.42 485.70,579.01 486.20,578.59 486.70,578.14 487.20,577.66 487.70,577.14 488.20,576.56 488.70,575.92 489.20,575.21 489.70,574.43 490.20,573.56 490.70,572.63 491.20,571.64 491.70,570.59 492.20,569.50 492.70,568.37 493.20,567.23 493.70,566.07 494.20,564.90 494.70,563.73 495.20,562.55 495.70,561.36 496.20,560.16 496.70,558.95 497.20,557.71 497.70,556.47 498.20,555.22 498.70,553.97 499.20,552.74 499.70,551.54 500.20,550.38 500.70,549.28 501.20,548.25 501.70,547.30 502.20,546.41 502.70,545.61 503.20,544.88 503.70,544.21 504.20,543.59 504.70,543.01 505.20,542.48 505.70,541.97 506.20,541.50 506.70,541.07 507.20,540.67 507.70,540.32 508.20,540.01 508.70,539.74 509.20,539.54 509.70,539.39 510.20,539.31 510.70,539.29 511.20,539.34 511.70,539.46 512.20,539.65 512.70,539.90 513.20,540.21 513.70,540.59 514.20,541.02 514.70,541.50 515.20,542.02 515.70,542.58 516.20,543.17 516.70,543.79 517.20,544.43 517.70,545.09 518.20,545.77 518.70,546.47 519.20,547.18 519.70,547.91 520.20,548.67 520.70,549.46 521.20,550.29 521.70,551.16 522.20,552.07 522.70,553.03 523.20,554.03 523.70,555.06 524.20,556.12 524.70,557.20 525.20,558.30 525.70,559.39 526.20,560.49 526.70,561.57 527.20,562.63 527.70,563.67 528.20,564.68 528.70,565.66 529.20,566.60 529.70,567.53 530.20,568.42 530.70,569.30 531.20,570.17 531.70,571.02 532.20,571.86 532.70,572.69 533.20,573.50 533.70,574.30 534.20,575.08 534.70,575.82 535.20,576.54 535.70,577.22 536.20,577.87 536.70,578.47 537.20,579.02 537.70,579.53 538.20,579.98 538.70,580.40 539.20,580.78 539.70,581.12 540.20,581.43 540.70,581.72 541.20,581.99 541.70,582.25 542.20,582.50 542.70,582.73 543.20,582.95 543.70,583.16 544.20,583.36 544.70,583.55 545.20,583.72 545.70,583.88 546.20,584.02 546.70,584.14 547.20,584.25 547.70,584.34 548.20,584.41 548.70,584.47 549.20,584.51 549.60,584.54" fill="none" stroke="#000" stroke-width="1.3" stroke-linejoin="round"/>
<polygon points="469.00,603.46 469.00,603.39 469.50,603.36 470.00,603.30 470.50,603.23 471.00,603.14 471.50,603.03 472.00,602.91 472.50,602.76 473.00,602.59 473.50,602.41 474.00,602.21 474.50,602.00 475.00,601.77 475.50,601.53 476.00,601.27 476.50,601.00 477.00,600.72 477.50,600.42 478.00,600.10 478.50,599.76 479.00,599.38 479.50,598.96 480.00,598.51 480.50,598.01 481.00,597.47 481.50,596.88 482.00,596.25 482.50,595.59 483.00,594.88 483.50,594.14 484.00,593.36 484.50,592.56 485.00,591.74 485.50,590.88 486.00,590.00 486.50,589.10 487.00,588.16 487.50,587.18 488.00,586.15 488.50,585.07 489.00,583.93 489.50,582.73 490.00,581.47 490.50,580.17 491.00,578.82 491.50,577.46 492.00,576.09 492.50,574.74 493.00,573.42 493.50,572.14 494.00,570.93 494.50,569.77 495.00,568.69 495.50,567.67 496.00,566.71 496.50,565.79 497.00,564.91 497.50,564.07 498.00,563.26 498.50,562.48 499.00,561.74 499.50,561.04 500.00,560.39 500.50,559.80 501.00,559.28 501.50,558.82 502.00,558.45 502.50,558.17 503.00,557.97 503.50,557.87 504.00,557.87 504.50,557.96 505.00,558.14 505.50,558.40 506.00,558.74 506.50,559.16 507.00,559.64 507.50,560.18 508.00,560.77 508.50,561.40 509.00,562.07 509.50,562.77 510.00,563.49 510.50,564.22 511.00,564.98 511.50,565.74 512.00,566.52 512.50,567.32 513.00,568.15 513.50,569.00 514.00,569.89 514.50,570.81 515.00,571.78 515.50,572.77 516.00,573.80 516.50,574.85 517.00,575.92 517.50,577.00 518.00,578.09 518.50,579.17 519.00,580.24 519.50,581.29 520.00,582.32 520.50,583.33 521.00,584.31 521.50,585.26 522.00,586.18 522.50,587.09 523.00,587.98 523.50,588.86 524.00,589.73 524.50,590.60 525.00,591.45 525.50,592.29 526.00,593.11 526.50,593.91 527.00,594.68 527.50,595.42 528.00,596.12 528.50,596.78 529.00,597.39 529.50,597.94 530.00,598.45 530.50,598.90 531.00,599.29 531.50,599.64 532.00,599.95 532.50,600.23 533.00,600.48 533.50,600.72 534.00,600.93 534.50,601.14 535.00,601.34 535.50,601.52 536.00,601.71 536.50,601.88 537.00,602.04 537.50,602.20 538.00,602.35 538.50,602.49 539.00,602.62 539.50,602.74 540.00,602.85 540.50,602.96 541.00,603.05 541.50,603.13 542.00,603.20 542.50,603.27 543.00,603.32 543.50,603.36 544.00,603.39 544.50,603.42 544.90,603.43 544.90,603.46" fill="url(#rg)"/>
<polyline points="469.00,603.39 469.50,603.36 470.00,603.30 470.50,603.23 471.00,603.14 471.50,603.03 472.00,602.91 472.50,602.76 473.00,602.59 473.50,602.41 474.00,602.21 474.50,602.00 475.00,601.77 475.50,601.53 476.00,601.27 476.50,601.00 477.00,600.72 477.50,600.42 478.00,600.10 478.50,599.76 479.00,599.38 479.50,598.96 480.00,598.51 480.50,598.01 481.00,597.47 481.50,596.88 482.00,596.25 482.50,595.59 483.00,594.88 483.50,594.14 484.00,593.36 484.50,592.56 485.00,591.74 485.50,590.88 486.00,590.00 486.50,589.10 487.00,588.16 487.50,587.18 488.00,586.15 488.50,585.07 489.00,583.93 489.50,582.73 490.00,581.47 490.50,580.17 491.00,578.82 491.50,577.46 492.00,576.09 492.50,574.74 493.00,573.42 493.50,572.14 494.00,570.93 494.50,569.77 495.00,568.69 495.50,567.67 496.00,566.71 496.50,565.79 497.00,564.91 497.50,564.07 498.00,563.26 498.50,562.48 499.00,561.74 499.50,561.04 500.00,560.39 500.50,559.80 501.00,559.28 501.50,558.82 502.00,558.45 502.50,558.17 503.00,557.97 503.50,557.87 504.00,557.87 504.50,557.96 505.00,558.14 505.50,558.40 506.00,558.74 506.50,559.16 507.00,559.64 507.50,560.18 508.00,560.77 508.50,561.40 509.00,562.07 509.50,562.77 510.00,563.49 510.50,564.22 511.00,564.98 511.50,565.74 512.00,566.52 512.50,567.32 513.00,568.15 513.50,569.00 514.00,569.89 514.50,570.81 515.00,571.78 515.50,572.77 516.00,573.80 516.50,574.85 517.00,575.92 517.50,577.00 518.00,578.09 518.50,579.17 519.00,580.24 519.50,581.29 520.00,582.32 520.50,583.33 521.00,584.31 521.50,585.26 522.00,586.18 522.50,587.09 523.00,587.98 523.50,588.86 524.00,589.73 524.50,590.60 525.00,591.45 525.50,592.29 526.00,593.11 526.50,593.91 527.00,594.68 527.50,595.42 528.00,596.12 528.50,596.78 529.00,597.39 529.50,597.94 530.00,598.45 530.50,598.90 531.00,599.29 531.50,599.64 532.00,599.95 532.50,600.23 533.00,600.48 533.50,600.72 534.00,600.93 534.50,601.14 535.00,601.34 535.50,601.52 536.00,601.71 536.50,601.88 537.00,602.04 537.50,602.20 538.00,602.35 538.50,602.49 539.00,602.62 539.50,602.74 540.00,602.85 540.50,602.96 541.00,603.05 541.50,603.13 542.00,603.20 542.50,603.27 543.00,603.32 543.50,603.36 544.00,603.39 544.50,603.42 544.90,603.43" fill="none" stroke="#000" stroke-width="1.3" stroke-linejoin="round"/>
<polygon points="473.70,622.33 473.70,622.26 474.20,622.22 474.70,622.16 475.20,622.08 475.70,621.98 476.20,621.85 476.70,621.71 477.20,621.53 477.70,621.34 478.20,621.12 478.70,620.88 479.20,620.61 479.70,620.33 480.20,620.02 480.70,619.70 481.20,619.35 481.70,618.99 482.20,618.61 482.70,618.21 483.20,617.79 483.70,617.36 484.20,616.91 484.70,616.44 485.20,615.96 485.70,615.45 486.20,614.92 486.70,614.35 487.20,613.73 487.70,613.04 488.20,612.26 488.70,611.38 489.20,610.38 489.70,609.26 490.20,608.02 490.70,606.66 491.20,605.20 491.70,603.66 492.20,602.05 492.70,600.40 493.20,598.73 493.70,597.07 494.20,595.43 494.70,593.85 495.20,592.33 495.70,590.88 496.20,589.53 496.70,588.27 497.20,587.10 497.70,586.01 498.20,584.98 498.70,584.00 499.20,583.07 499.70,582.17 500.20,581.29 500.70,580.45 501.20,579.64 501.70,578.86 502.20,578.12 502.70,577.43 503.20,576.79 503.70,576.21 504.20,575.70 504.70,575.26 505.20,574.90 505.70,574.62 506.20,574.44 506.70,574.34 507.20,574.34 507.70,574.44 508.20,574.63 508.70,574.92 509.20,575.29 509.70,575.74 510.20,576.27 510.70,576.87 511.20,577.53 511.70,578.25 512.20,579.01 512.70,579.80 513.20,580.63 513.70,581.49 514.20,582.36 514.70,583.25 515.20,584.16 515.70,585.10 516.20,586.05 516.70,587.05 517.20,588.09 517.70,589.17 518.20,590.31 518.70,591.50 519.20,592.74 519.70,594.02 520.20,595.33 520.70,596.66 521.20,598.00 521.70,599.33 522.20,600.65 522.70,601.94 523.20,603.20 523.70,604.40 524.20,605.55 524.70,606.64 525.20,607.68 525.70,608.65 526.20,609.58 526.70,610.46 527.20,611.31 527.70,612.13 528.20,612.92 528.70,613.69 529.20,614.44 529.70,615.16 530.20,615.86 530.70,616.52 531.20,617.15 531.70,617.74 532.20,618.28 532.70,618.78 533.20,619.23 533.70,619.63 534.20,619.98 534.70,620.28 535.20,620.53 535.70,620.75 536.20,620.94 536.70,621.10 537.20,621.24 537.70,621.37 538.20,621.49 538.70,621.60 539.20,621.70 539.70,621.79 540.20,621.88 540.70,621.96 541.20,622.03 541.70,622.09 542.20,622.14 542.70,622.19 543.20,622.23 543.70,622.26 544.20,622.28 544.70,622.30 544.70,622.33" fill="url(#rg)"/>
<polyline points="473.70,622.26 474.20,622.22 474.70,622.16 475.20,622.08 475.70,621.98 476.20,621.85 476.70,621.71 477.20,621.53 477.70,621.34 478.20,621.12 478.70,620.88 479.20,620.61 479.70,620.33 480.20,620.02 480.70,619.70 481.20,619.35 481.70,618.99 482.20,618.61 482.70,618.21 483.20,617.79 483.70,617.36 484.20,616.91 484.70,616.44 485.20,615.96 485.70,615.45 486.20,614.92 486.70,614.35 487.20,613.73 487.70,613.04 488.20,612.26 488.70,611.38 489.20,610.38 489.70,609.26 490.20,608.02 490.70,606.66 491.20,605.20 491.70,603.66 492.20,602.05 492.70,600.40 493.20,598.73 493.70,597.07 494.20,595.43 494.70,593.85 495.20,592.33 495.70,590.88 496.20,589.53 496.70,588.27 497.20,587.10 497.70,586.01 498.20,584.98 498.70,584.00 499.20,583.07 499.70,582.17 500.20,581.29 500.70,580.45 501.20,579.64 501.70,578.86 502.20,578.12 502.70,577.43 503.20,576.79 503.70,576.21 504.20,575.70 504.70,575.26 505.20,574.90 505.70,574.62 506.20,574.44 506.70,574.34 507.20,574.34 507.70,574.44 508.20,574.63 508.70,574.92 509.20,575.29 509.70,575.74 510.20,576.27 510.70,576.87 511.20,577.53 511.70,578.25 512.20,579.01 512.70,579.80 513.20,580.63 513.70,581.49 514.20,582.36 514.70,583.25 515.20,584.16 515.70,585.10 516.20,586.05 516.70,587.05 517.20,588.09 517.70,589.17 518.20,590.31 518.70,591.50 519.20,592.74 519.70,594.02 520.20,595.33 520.70,596.66 521.20,598.00 521.70,599.33 522.20,600.65 522.70,601.94 523.20,603.20 523.70,604.40 524.20,605.55 524.70,606.64 525.20,607.68 525.70,608.65 526.20,609.58 526.70,610.46 527.20,611.31 527.70,612.13 528.20,612.92 528.70,613.69 529.20,614.44 529.70,615.16 530.20,615.86 530.70,616.52 531.20,617.15 531.70,617.74 532.20,618.28 532.70,618.78 533.20,619.23 533.70,619.63 534.20,619.98 534.70,620.28 535.20,620.53 535.70,620.75 536.20,620.94 536.70,621.10 537.20,621.24 537.70,621.37 538.20,621.49 538.70,621.60 539.20,621.70 539.70,621.79 540.20,621.88 540.70,621.96 541.20,622.03 541.70,622.09 542.20,622.14 542.70,622.19 543.20,622.23 543.70,622.26 544.20,622.28 544.70,622.30" fill="none" stroke="#000" stroke-width="1.3" stroke-linejoin="round"/>
<polygon points="468.60,641.20 468.60,641.10 469.10,641.05 469.60,640.97 470.10,640.86 470.60,640.73 471.10,640.56 471.60,640.37 472.10,640.14 472.60,639.89 473.10,639.60 473.60,639.29 474.10,638.96 474.60,638.60 475.10,638.21 475.60,637.81 476.10,637.39 476.60,636.94 477.10,636.48 477.60,636.01 478.10,635.51 478.60,635.01 479.10,634.48 479.60,633.93 480.10,633.36 480.60,632.75 481.10,632.11 481.60,631.41 482.10,630.66 482.60,629.84 483.10,628.96 483.60,628.01 484.10,626.98 484.60,625.88 485.10,624.70 485.60,623.43 486.10,622.06 486.60,620.59 487.10,619.00 487.60,617.29 488.10,615.47 488.60,613.57 489.10,611.61 489.60,609.63 490.10,607.66 490.60,605.73 491.10,603.86 491.60,602.05 492.10,600.30 492.60,598.61 493.10,596.97 493.60,595.39 494.10,593.85 494.60,592.38 495.10,590.99 495.60,589.70 496.10,588.51 496.60,587.46 497.10,586.55 497.60,585.82 498.10,585.27 498.60,584.93 499.10,584.80 499.60,584.91 500.10,585.24 500.60,585.80 501.10,586.59 501.60,587.57 502.10,588.74 502.60,590.06 503.10,591.51 503.60,593.05 504.10,594.67 504.60,596.31 505.10,597.97 505.60,599.62 506.10,601.24 506.60,602.81 507.10,604.33 507.60,605.81 508.10,607.25 508.60,608.66 509.10,610.04 509.60,611.40 510.10,612.75 510.60,614.09 511.10,615.41 511.60,616.72 512.10,618.01 512.60,619.28 513.10,620.52 513.60,621.72 514.10,622.90 514.60,624.05 515.10,625.17 515.60,626.26 516.10,627.32 516.60,628.37 517.10,629.38 517.60,630.36 518.10,631.32 518.60,632.22 519.10,633.08 519.60,633.88 520.10,634.61 520.60,635.27 521.10,635.86 521.60,636.39 522.10,636.86 522.60,637.28 523.10,637.67 523.60,638.02 524.10,638.35 524.60,638.66 525.10,638.95 525.60,639.22 526.10,639.48 526.60,639.72 527.10,639.95 527.60,640.16 528.10,640.35 528.60,640.51 529.10,640.66 529.60,640.79 530.10,640.90 530.60,640.99 531.10,641.05 531.60,641.10 532.00,641.14 532.00,641.20" fill="url(#rg)"/>
<polyline points="468.60,641.10 469.10,641.05 469.60,640.97 470.10,640.86 470.60,640.73 471.10,640.56 471.60,640.37 472.10,640.14 472.60,639.89 473.10,639.60 473.60,639.29 474.10,638.96 474.60,638.60 475.10,638.21 475.60,637.81 476.10,637.39 476.60,636.94 477.10,636.48 477.60,636.01 478.10,635.51 478.60,635.01 479.10,634.48 479.60,633.93 480.10,633.36 480.60,632.75 481.10,632.11 481.60,631.41 482.10,630.66 482.60,629.84 483.10,628.96 483.60,628.01 484.10,626.98 484.60,625.88 485.10,624.70 485.60,623.43 486.10,622.06 486.60,620.59 487.10,619.00 487.60,617.29 488.10,615.47 488.60,613.57 489.10,611.61 489.60,609.63 490.10,607.66 490.60,605.73 491.10,603.86 491.60,602.05 492.10,600.30 492.60,598.61 493.10,596.97 493.60,595.39 494.10,593.85 494.60,592.38 495.10,590.99 495.60,589.70 496.10,588.51 496.60,587.46 497.10,586.55 497.60,585.82 498.10,585.27 498.60,584.93 499.10,584.80 499.60,584.91 500.10,585.24 500.60,585.80 501.10,586.59 501.60,587.57 502.10,588.74 502.60,590.06 503.10,591.51 503.60,593.05 504.10,594.67 504.60,596.31 505.10,597.97 505.60,599.62 506.10,601.24 506.60,602.81 507.10,604.33 507.60,605.81 508.10,607.25 508.60,608.66 509.10,610.04 509.60,611.40 510.10,612.75 510.60,614.09 511.10,615.41 511.60,616.72 512.10,618.01 512.60,619.28 513.10,620.52 513.60,621.72 514.10,622.90 514.60,624.05 515.10,625.17 515.60,626.26 516.10,627.32 516.60,628.37 517.10,629.38 517.60,630.36 518.10,631.32 518.60,632.22 519.10,633.08 519.60,633.88 520.10,634.61 520.60,635.27 521.10,635.86 521.60,636.39 522.10,636.86 522.60,637.28 523.10,637.67 523.60,638.02 524.10,638.35 524.60,638.66 525.10,638.95 525.60,639.22 526.10,639.48 526.60,639.72 527.10,639.95 527.60,640.16 528.10,640.35 528.60,640.51 529.10,640.66 529.60,640.79 530.10,640.90 530.60,640.99 531.10,641.05 531.60,641.10 532.00,641.14" fill="none" stroke="#000" stroke-width="1.3" stroke-linejoin="round"/>
<polygon points="471.70,660.07 471.70,659.92 472.20,659.83 472.70,659.71 473.20,659.56 473.70,659.36 474.20,659.13 474.70,658.85 475.20,658.54 475.70,658.19 476.20,657.79 476.70,657.37 477.20,656.91 477.70,656.42 478.20,655.90 478.70,655.35 479.20,654.78 479.70,654.18 480.20,653.57 480.70,652.93 481.20,652.27 481.70,651.60 482.20,650.91 482.70,650.20 483.20,649.47 483.70,648.71 484.20,647.92 484.70,647.08 485.20,646.18 485.70,645.22 486.20,644.18 486.70,643.08 487.20,641.92 487.70,640.72 488.20,639.49 488.70,638.26 489.20,637.04 489.70,635.85 490.20,634.71 490.70,633.61 491.20,632.57 491.70,631.57 492.20,630.61 492.70,629.67 493.20,628.75 493.70,627.85 494.20,626.95 494.70,626.07 495.20,625.19 495.70,624.34 496.20,623.49 496.70,622.67 497.20,621.87 497.70,621.09 498.20,620.34 498.70,619.63 499.20,618.95 499.70,618.31 500.20,617.71 500.70,617.16 501.20,616.66 501.70,616.21 502.20,615.82 502.70,615.49 503.20,615.22 503.70,615.02 504.20,614.91 504.70,614.87 505.20,614.92 505.70,615.07 506.20,615.31 506.70,615.65 507.20,616.08 507.70,616.60 508.20,617.20 508.70,617.86 509.20,618.60 509.70,619.38 510.20,620.21 510.70,621.07 511.20,621.96 511.70,622.87 512.20,623.79 512.70,624.73 513.20,625.70 513.70,626.68 514.20,627.71 514.70,628.77 515.20,629.87 515.70,631.01 516.20,632.18 516.70,633.39 517.20,634.62 517.70,635.85 518.20,637.08 518.70,638.29 519.20,639.47 519.70,640.61 520.20,641.70 520.70,642.74 521.20,643.72 521.70,644.66 522.20,645.55 522.70,646.40 523.20,647.22 523.70,648.02 524.20,648.79 524.70,649.55 525.20,650.28 525.70,650.99 526.20,651.68 526.70,652.35 527.20,652.98 527.70,653.59 528.20,654.16 528.70,654.69 529.20,655.18 529.70,655.63 530.20,656.04 530.70,656.41 531.20,656.74 531.70,657.03 532.20,657.29 532.70,657.52 533.20,657.73 533.70,657.93 534.20,658.11 534.70,658.28 535.20,658.44 535.70,658.60 536.20,658.75 536.70,658.89 537.20,659.03 537.70,659.16 538.20,659.28 538.70,659.39 539.20,659.49 539.70,659.59 540.20,659.67 540.70,659.75 541.20,659.82 541.70,659.88 542.20,659.93 542.70,659.97 543.20,660.00 543.70,660.02 544.20,660.04 544.20,660.07" fill="url(#rg)"/>
<polyline points="471.70,659.92 472.20,659.83 472.70,659.71 473.20,659.56 473.70,659.36 474.20,659.13 474.70,658.85 475.20,658.54 475.70,658.19 476.20,657.79 476.70,657.37 477.20,656.91 477.70,656.42 478.20,655.90 478.70,655.35 479.20,654.78 479.70,654.18 480.20,653.57 480.70,652.93 481.20,652.27 481.70,651.60 482.20,650.91 482.70,650.20 483.20,649.47 483.70,648.71 484.20,647.92 484.70,647.08 485.20,646.18 485.70,645.22 486.20,644.18 486.70,643.08 487.20,641.92 487.70,640.72 488.20,639.49 488.70,638.26 489.20,637.04 489.70,635.85 490.20,634.71 490.70,633.61 491.20,632.57 491.70,631.57 492.20,630.61 492.70,629.67 493.20,628.75 493.70,627.85 494.20,626.95 494.70,626.07 495.20,625.19 495.70,624.34 496.20,623.49 496.70,622.67 497.20,621.87 497.70,621.09 498.20,620.34 498.70,619.63 499.20,618.95 499.70,618.31 500.20,617.71 500.70,617.16 501.20,616.66 501.70,616.21 502.20,615.82 502.70,615.49 503.20,615.22 503.70,615.02 504.20,614.91 504.70,614.87 505.20,614.92 505.70,615.07 506.20,615.31 506.70,615.65 507.20,616.08 507.70,616.60 508.20,617.20 508.70,617.86 509.20,618.60 509.70,619.38 510.20,620.21 510.70,621.07 511.20,621.96 511.70,622.87 512.20,623.79 512.70,624.73 513.20,625.70 513.70,626.68 514.20,627.71 514.70,628.77 515.20,629.87 515.70,631.01 516.20,632.18 516.70,633.39 517.20,634.62 517.70,635.85 518.20,637.08 518.70,638.29 519.20,639.47 519.70,640.61 520.20,641.70 520.70,642.74 521.20,643.72 521.70,644.66 522.20,645.55 522.70,646.40 523.20,647.22 523.70,648.02 524.20,648.79 524.70,649.55 525.20,650.28 525.70,650.99 526.20,651.68 526.70,652.35 527.20,652.98 527.70,653.59 528.20,654.16 528.70,654.69 529.20,655.18 529.70,655.63 530.20,656.04 530.70,656.41 531.20,656.74 531.70,657.03 532.20,657.29 532.70,657.52 533.20,657.73 533.70,657.93 534.20,658.11 534.70,658.28 535.20,658.44 535.70,658.60 536.20,658.75 536.70,658.89 537.20,659.03 537.70,659.16 538.20,659.28 538.70,659.39 539.20,659.49 539.70,659.59 540.20,659.67 540.70,659.75 541.20,659.82 541.70,659.88 542.20,659.93 542.70,659.97 543.20,660.00 543.70,660.02 544.20,660.04" fill="none" stroke="#000" stroke-width="1.3" stroke-linejoin="round"/>
<circle cx="549.7" cy="452.50" r="4.6" fill="#ff0000" stroke="#000" stroke-width="0.9"/>
<circle cx="538.5" cy="471.37" r="4.6" fill="#ff6645" stroke="#000" stroke-width="0.9"/>
<circle cx="478.9" cy="490.24" r="4.6" fill="#9f73ff" stroke="#000" stroke-width="0.9"/>
<circle cx="541.0" cy="509.11" r="4.6" fill="#ff5737" stroke="#000" stroke-width="0.9"/>
<circle cx="535.9" cy="527.98" r="4.6" fill="#ff7453" stroke="#000" stroke-width="0.9"/>
<circle cx="532.2" cy="546.85" r="4.6" fill="#ff8766" stroke="#000" stroke-width="0.9"/>
<circle cx="531.6" cy="565.72" r="4.6" fill="#ff896a" stroke="#000" stroke-width="0.9"/>
<circle cx="529.3" cy="584.59" r="4.6" fill="#ff9476" stroke="#000" stroke-width="0.9"/>
<circle cx="532.0" cy="603.46" r="4.6" fill="#ff8868" stroke="#000" stroke-width="0.9"/>
<circle cx="530.6" cy="622.33" r="4.6" fill="#ff8e6f" stroke="#000" stroke-width="0.9"/>
<circle cx="526.9" cy="641.20" r="4.6" fill="#ffa083" stroke="#000" stroke-width="0.9"/>
<circle cx="481.5" cy="660.07" r="4.6" fill="#aa81ff" stroke="#000" stroke-width="0.9"/>
<text x="445.00" y="685.40" font-size="11.8" fill="#4d4d4d" text-anchor="start" >−1000</text>
<text x="502.10" y="685.40" font-size="11.8" fill="#4d4d4d" text-anchor="start" >0</text>
<text x="535.80" y="685.40" font-size="11.8" fill="#4d4d4d" text-anchor="start" >1000</text>
<text x="579.70" y="685.40" font-size="11.8" fill="#4d4d4d" text-anchor="start" >2000</text>
<text x="483.95" y="699.50" font-size="12" fill="#1a1a1a" text-anchor="start" >Median Rank</text>
<rect x="625.3" y="502.1" width="17.7" height="87.6" fill="url(#cb)"/>
<line x1="625.3" y1="524.15" x2="628.8" y2="524.15" stroke="#fff" stroke-width="0.7"/>
<line x1="639.5" y1="524.15" x2="643" y2="524.15" stroke="#fff" stroke-width="0.7"/>
<line x1="625.3" y1="545.95" x2="628.8" y2="545.95" stroke="#fff" stroke-width="0.7"/>
<line x1="639.5" y1="545.95" x2="643" y2="545.95" stroke="#fff" stroke-width="0.7"/>
<line x1="625.3" y1="567.75" x2="628.8" y2="567.75" stroke="#fff" stroke-width="0.7"/>
<line x1="639.5" y1="567.75" x2="643" y2="567.75" stroke="#fff" stroke-width="0.7"/>
<text x="648.90" y="505.55" font-size="8.8" fill="#1a1a1a" text-anchor="start" >1000</text>
<text x="648.90" y="527.35" font-size="8.8" fill="#1a1a1a" text-anchor="start" >500</text>
<text x="648.90" y="549.15" font-size="8.8" fill="#1a1a1a" text-anchor="start" >0</text>
<text x="648.90" y="570.95" font-size="8.8" fill="#1a1a1a" text-anchor="start" >−500</text>
<text x="648.90" y="592.75" font-size="8.8" fill="#1a1a1a" text-anchor="start" >−1000</text>
</svg>
</body></html>
